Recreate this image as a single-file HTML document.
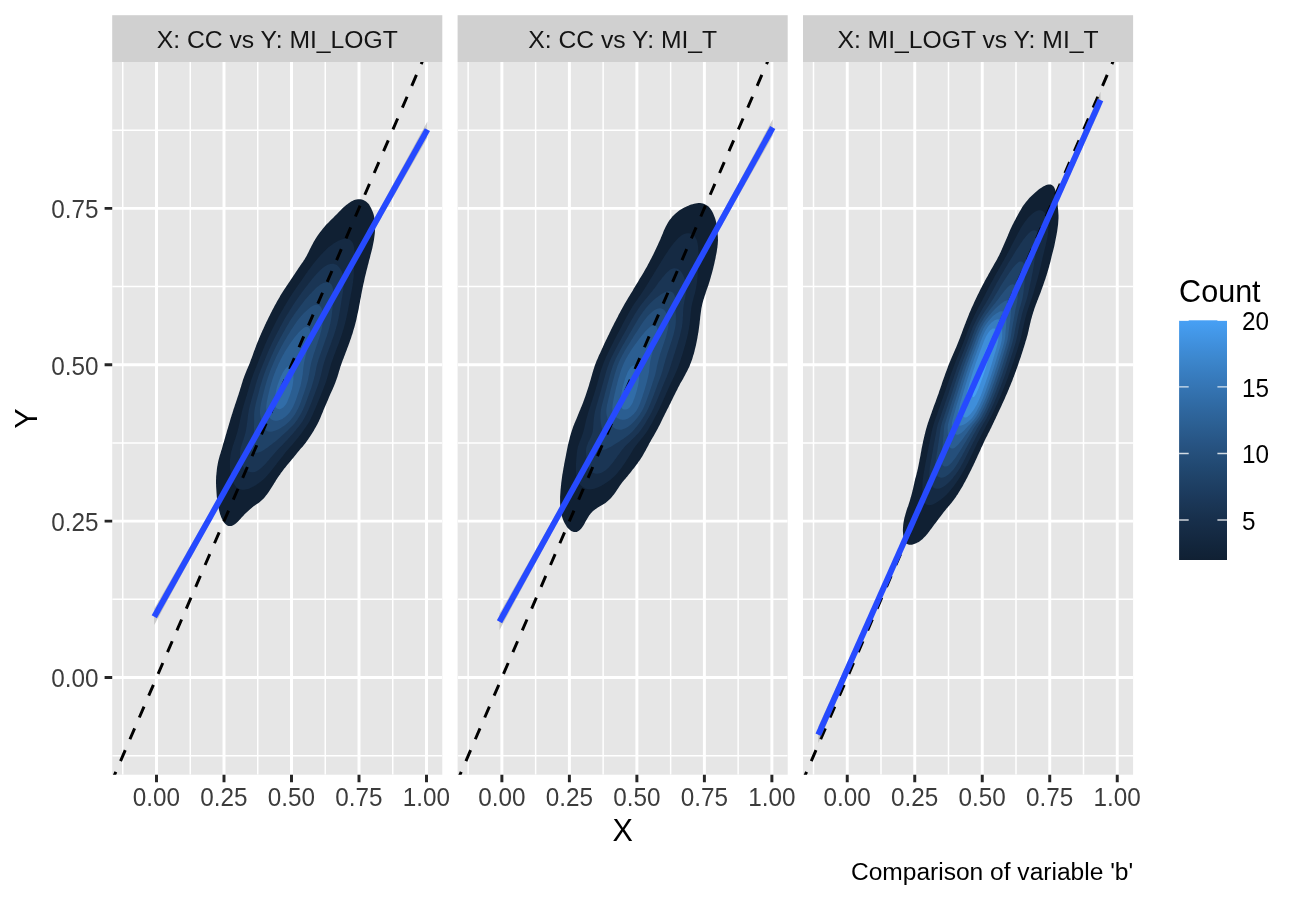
<!DOCTYPE html>
<html lang="en"><head><meta charset="utf-8"><title>Comparison of variable 'b'</title>
<style>
html,body{margin:0;padding:0;background:#fff;}
body{width:1300px;height:900px;overflow:hidden;}
svg{display:block;}
text{font-family:"Liberation Sans",sans-serif;}
.ax{font-size:24.3px;fill:#3c3c3c;}
.st{font-size:24.7px;fill:#141414;}
.ti{font-size:30.56px;fill:#000;}
.lg{font-size:24.3px;fill:#000;}.cp{font-size:24.55px;fill:#000;}
.gM{stroke:#fff;stroke-width:2.96;fill:none;}
.gm{stroke:#fff;stroke-width:1.48;fill:none;}
.tk{stroke:#262626;stroke-width:2.96;fill:none;}
</style></head><body>
<svg width="1300" height="900" viewBox="0 0 1300 900" role="img" aria-label="Comparison of variable b">
<rect width="1300" height="900" fill="#fff"/>
<defs>
<clipPath id="c0"><rect x="112.2" y="62.0" width="330.1" height="712.7"/></clipPath>
<clipPath id="c1"><rect x="457.6" y="62.0" width="330.1" height="712.7"/></clipPath>
<clipPath id="c2"><rect x="803.0" y="62.0" width="330.1" height="712.7"/></clipPath>
<linearGradient id="cb" x1="0" y1="1" x2="0" y2="0">
<stop offset="0.0000" stop-color="#102033"/>
<stop offset="0.0556" stop-color="#12253b"/>
<stop offset="0.1111" stop-color="#152a43"/>
<stop offset="0.1667" stop-color="#172f4b"/>
<stop offset="0.2222" stop-color="#1a3554"/>
<stop offset="0.2778" stop-color="#1c3b5e"/>
<stop offset="0.3333" stop-color="#1f4267"/>
<stop offset="0.3889" stop-color="#214871"/>
<stop offset="0.4444" stop-color="#254f7b"/>
<stop offset="0.5000" stop-color="#285686"/>
<stop offset="0.5556" stop-color="#2b5e91"/>
<stop offset="0.6111" stop-color="#2e659c"/>
<stop offset="0.6667" stop-color="#316da8"/>
<stop offset="0.7222" stop-color="#3575b4"/>
<stop offset="0.7778" stop-color="#387dc0"/>
<stop offset="0.8333" stop-color="#3c86cc"/>
<stop offset="0.8889" stop-color="#3f8eda"/>
<stop offset="0.9444" stop-color="#4397e7"/>
<stop offset="1.0000" stop-color="#47a0f5"/>
</linearGradient>
</defs>
<g>
<rect x="112.2" y="15.2" width="330.1" height="46.8" fill="#d0d0d0"/>
<text class="st" x="277.3" y="48.2" text-anchor="middle">X: CC vs Y: MI_LOGT</text>
<rect x="112.2" y="62.0" width="330.1" height="712.7" fill="#e6e6e6"/>
<g clip-path="url(#c0)">
<path class="gm" d="M122.75 62.0V774.7M112.2 755.69H442.4M190.25 62.0V774.7M112.2 599.31H442.4M257.75 62.0V774.7M112.2 442.94H442.4M325.25 62.0V774.7M112.2 286.56H442.4M392.75 62.0V774.7M112.2 130.19H442.4"/>
<path class="gM" d="M156.50 62.0V774.7M224.00 62.0V774.7M291.50 62.0V774.7M359.00 62.0V774.7M426.50 62.0V774.7M112.2 677.50H442.4M112.2 521.12H442.4M112.2 364.75H442.4M112.2 208.38H442.4"/>
<path d="M359.0 199.2L360.5 199.3L361.9 199.6L363.3 200.1L364.7 200.7L366.0 201.5L367.1 202.4L368.2 203.4L369.1 204.6L369.9 205.9L370.6 207.2L371.3 208.5L371.9 209.9L372.5 211.2L373.0 212.6L373.5 214.1L373.9 215.5L374.2 217.0L374.5 218.4L374.7 219.9L374.8 221.4L375.0 222.9L375.0 224.4L375.1 225.9L375.1 227.4L375.1 228.9L375.0 230.4L374.9 231.9L374.8 233.4L374.6 234.9L374.4 236.4L374.2 237.9L374.0 239.4L373.8 240.8L373.5 242.3L373.2 243.8L372.9 245.3L372.6 246.7L372.3 248.2L371.9 249.7L371.6 251.1L371.2 252.6L370.8 254.0L370.4 255.5L370.1 256.9L369.7 258.4L369.3 259.8L368.9 261.3L368.6 262.7L368.2 264.2L367.8 265.6L367.5 267.1L367.1 268.5L366.7 270.0L366.3 271.5L366.0 272.9L365.6 274.4L365.3 275.8L364.9 277.3L364.6 278.8L364.3 280.2L364.0 281.7L363.6 283.2L363.3 284.6L363.0 286.1L362.7 287.6L362.4 289.0L362.1 290.5L361.8 292.0L361.5 293.4L361.2 294.9L361.0 296.4L360.7 297.9L360.4 299.3L360.1 300.8L359.9 302.3L359.6 303.8L359.3 305.2L359.0 306.7L358.8 308.2L358.5 309.7L358.2 311.1L357.9 312.6L357.5 314.1L357.2 315.5L356.9 317.0L356.6 318.5L356.3 319.9L355.9 321.4L355.5 322.9L355.2 324.3L354.8 325.8L354.4 327.2L354.0 328.6L353.5 330.1L353.1 331.5L352.7 333.0L352.2 334.4L351.7 335.8L351.3 337.2L350.8 338.7L350.3 340.1L349.8 341.5L349.3 342.9L348.8 344.3L348.3 345.7L347.8 347.1L347.2 348.5L346.7 349.9L346.2 351.3L345.6 352.7L345.1 354.2L344.6 355.6L344.0 357.0L343.5 358.4L342.9 359.8L342.4 361.2L341.9 362.6L341.4 364.0L340.9 365.4L340.4 366.8L340.0 368.3L339.6 369.7L339.1 371.1L338.7 372.6L338.3 374.0L337.8 375.4L337.4 376.9L336.9 378.3L336.4 379.7L335.9 381.1L335.4 382.5L334.8 383.9L334.3 385.3L333.7 386.7L333.1 388.1L332.5 389.4L331.9 390.8L331.2 392.2L330.6 393.6L330.0 394.9L329.4 396.3L328.8 397.7L328.3 399.1L327.7 400.5L327.1 401.8L326.5 403.2L325.9 404.6L325.3 406.0L324.7 407.3L324.1 408.7L323.5 410.1L323.0 411.5L322.4 412.9L321.8 414.3L321.2 415.7L320.7 417.0L320.1 418.4L319.5 419.8L318.9 421.2L318.2 422.5L317.5 423.9L316.8 425.2L316.1 426.5L315.4 427.8L314.6 429.1L313.9 430.4L313.1 431.7L312.3 433.0L311.5 434.2L310.7 435.5L309.9 436.7L309.0 438.0L308.2 439.2L307.3 440.5L306.4 441.7L305.6 442.9L304.7 444.1L303.7 445.3L302.8 446.4L301.8 447.5L300.8 448.6L299.8 449.8L298.8 450.9L297.9 452.1L296.9 453.3L296.0 454.5L295.1 455.6L294.1 456.8L293.2 458.0L292.2 459.1L291.2 460.2L290.2 461.4L289.3 462.5L288.3 463.7L287.4 464.8L286.4 466.0L285.5 467.2L284.5 468.3L283.6 469.5L282.7 470.7L281.8 471.9L280.9 473.1L280.1 474.4L279.2 475.6L278.4 476.8L277.5 478.1L276.7 479.3L275.9 480.6L275.1 481.9L274.3 483.1L273.5 484.4L272.7 485.7L271.9 487.0L271.1 488.2L270.3 489.5L269.5 490.7L268.7 492.0L267.8 493.2L266.9 494.4L266.0 495.6L265.1 496.8L264.1 498.0L263.1 499.1L262.0 500.1L260.9 501.1L259.8 502.1L258.6 503.0L257.3 503.8L256.1 504.6L254.8 505.5L253.6 506.3L252.4 507.3L251.3 508.2L250.1 509.2L249.0 510.2L247.9 511.2L246.8 512.2L245.7 513.2L244.6 514.3L243.6 515.4L242.6 516.5L241.6 517.6L240.6 518.7L239.6 519.8L238.5 520.9L237.5 522.0L236.4 523.0L235.2 524.0L234.0 524.8L232.7 525.5L231.4 526.0L230.0 526.1L228.6 526.0L227.2 525.4L226.0 524.6L224.9 523.6L224.0 522.5L223.2 521.3L222.5 519.9L221.8 518.6L221.2 517.2L220.7 515.8L220.2 514.4L219.8 513.0L219.4 511.5L219.0 510.0L218.7 508.6L218.4 507.1L218.1 505.6L217.9 504.2L217.6 502.7L217.4 501.2L217.2 499.7L217.0 498.2L216.8 496.7L216.7 495.2L216.6 493.7L216.5 492.2L216.4 490.8L216.3 489.3L216.2 487.8L216.1 486.3L216.1 484.8L216.0 483.3L216.0 481.8L216.0 480.3L216.1 478.8L216.1 477.3L216.2 475.8L216.4 474.3L216.5 472.8L216.7 471.3L216.8 469.8L217.0 468.3L217.2 466.8L217.5 465.3L217.7 463.9L218.0 462.4L218.3 460.9L218.7 459.5L219.1 458.0L219.5 456.6L219.9 455.1L220.4 453.7L220.8 452.3L221.2 450.8L221.7 449.4L222.1 447.9L222.5 446.5L222.9 445.1L223.3 443.6L223.8 442.2L224.2 440.7L224.6 439.3L225.0 437.9L225.4 436.4L225.8 435.0L226.3 433.5L226.7 432.1L227.1 430.6L227.5 429.2L228.0 427.8L228.4 426.3L228.8 424.9L229.2 423.5L229.7 422.0L230.1 420.6L230.5 419.1L230.9 417.7L231.4 416.3L231.8 414.8L232.3 413.4L232.7 412.0L233.2 410.5L233.6 409.1L234.1 407.7L234.6 406.2L235.0 404.8L235.5 403.4L236.0 402.0L236.5 400.6L237.0 399.1L237.4 397.7L237.9 396.3L238.4 394.9L238.8 393.4L239.3 392.0L239.8 390.6L240.2 389.1L240.6 387.7L241.1 386.3L241.5 384.8L241.9 383.4L242.4 382.0L242.8 380.5L243.3 379.1L243.8 377.7L244.3 376.3L244.8 374.9L245.4 373.5L246.0 372.1L246.5 370.7L247.1 369.3L247.7 368.0L248.3 366.6L248.9 365.2L249.5 363.8L250.0 362.4L250.5 361.0L251.0 359.6L251.6 358.2L252.1 356.8L252.6 355.4L253.1 354.0L253.6 352.5L254.1 351.1L254.7 349.7L255.2 348.3L255.7 346.9L256.2 345.5L256.8 344.1L257.3 342.7L257.9 341.3L258.5 339.9L259.0 338.5L259.6 337.2L260.2 335.8L260.8 334.4L261.4 333.0L262.0 331.7L262.6 330.3L263.3 328.9L263.9 327.6L264.5 326.2L265.1 324.8L265.8 323.5L266.4 322.1L267.1 320.8L267.7 319.4L268.4 318.1L269.0 316.7L269.7 315.4L270.4 314.0L271.0 312.7L271.7 311.4L272.4 310.0L273.1 308.7L273.8 307.4L274.5 306.0L275.2 304.7L276.0 303.4L276.7 302.1L277.4 300.8L278.2 299.5L278.9 298.2L279.7 296.9L280.4 295.6L281.2 294.3L282.0 293.0L282.8 291.8L283.6 290.5L284.4 289.2L285.3 288.0L286.1 286.7L286.9 285.5L287.8 284.3L288.6 283.0L289.5 281.8L290.3 280.5L291.1 279.3L292.0 278.0L292.8 276.8L293.6 275.5L294.5 274.3L295.3 273.0L296.1 271.8L297.0 270.5L297.8 269.3L298.6 268.1L299.5 266.8L300.3 265.6L301.2 264.3L302.0 263.1L302.9 261.9L303.7 260.6L304.5 259.4L305.3 258.1L306.1 256.8L306.8 255.5L307.5 254.1L308.2 252.8L308.8 251.5L309.5 250.1L310.1 248.8L310.8 247.4L311.5 246.1L312.2 244.7L312.9 243.4L313.6 242.1L314.4 240.8L315.1 239.5L315.9 238.2L316.7 237.0L317.5 235.7L318.4 234.5L319.3 233.3L320.2 232.1L321.1 230.9L322.0 229.7L323.0 228.5L323.9 227.4L324.9 226.3L325.9 225.1L326.9 224.0L328.0 222.9L329.0 221.9L330.1 220.8L331.1 219.7L332.2 218.7L333.3 217.7L334.4 216.6L335.4 215.6L336.5 214.5L337.5 213.4L338.6 212.3L339.6 211.3L340.7 210.2L341.8 209.1L342.8 208.1L343.9 207.1L345.1 206.1L346.2 205.1L347.4 204.2L348.6 203.3L349.8 202.4L351.1 201.6L352.4 200.9L353.7 200.3L355.1 199.7L356.5 199.4L358.0 199.2Z" fill="#102033"/>
<path d="M346.0 238.7L347.5 238.9L348.9 239.3L350.2 239.9L351.3 240.9L352.2 242.0L353.0 243.3L353.5 244.7L353.9 246.2L354.2 247.6L354.3 249.1L354.4 250.6L354.5 252.1L354.5 253.6L354.4 255.1L354.4 256.6L354.3 258.1L354.2 259.6L354.2 261.1L354.1 262.6L354.1 264.1L354.0 265.6L354.0 267.1L354.0 268.6L354.0 270.1L353.9 271.6L353.8 273.1L353.8 274.6L353.7 276.1L353.6 277.6L353.4 279.1L353.2 280.6L353.1 282.1L352.8 283.6L352.6 285.1L352.4 286.6L352.1 288.0L351.9 289.5L351.6 291.0L351.3 292.5L351.0 293.9L350.7 295.4L350.5 296.9L350.2 298.4L349.9 299.8L349.6 301.3L349.4 302.8L349.1 304.3L348.8 305.8L348.5 307.2L348.3 308.7L348.0 310.2L347.7 311.7L347.4 313.1L347.1 314.6L346.8 316.1L346.5 317.5L346.1 319.0L345.8 320.5L345.4 321.9L345.1 323.4L344.7 324.8L344.3 326.3L343.9 327.7L343.5 329.2L343.0 330.6L342.6 332.0L342.1 333.5L341.7 334.9L341.2 336.3L340.7 337.7L340.2 339.2L339.7 340.6L339.2 342.0L338.7 343.4L338.2 344.8L337.6 346.2L337.1 347.6L336.6 349.0L336.0 350.4L335.5 351.8L335.0 353.2L334.4 354.6L333.9 356.1L333.4 357.5L332.9 358.9L332.4 360.3L331.9 361.7L331.4 363.1L330.9 364.5L330.5 366.0L330.1 367.4L329.7 368.9L329.3 370.3L328.9 371.8L328.5 373.2L328.1 374.7L327.7 376.1L327.3 377.6L326.9 379.0L326.4 380.4L326.0 381.9L325.5 383.3L325.0 384.7L324.4 386.1L323.9 387.5L323.3 388.9L322.8 390.3L322.2 391.7L321.6 393.1L321.1 394.5L320.5 395.9L320.0 397.2L319.4 398.6L318.8 400.0L318.3 401.4L317.7 402.8L317.2 404.2L316.6 405.6L316.0 407.0L315.4 408.4L314.8 409.8L314.2 411.1L313.6 412.5L313.0 413.9L312.4 415.3L311.8 416.6L311.1 418.0L310.5 419.3L309.8 420.7L309.1 422.0L308.3 423.3L307.5 424.5L306.7 425.8L305.9 427.1L305.0 428.3L304.1 429.5L303.3 430.7L302.4 431.9L301.5 433.2L300.6 434.4L299.7 435.6L298.8 436.8L297.9 437.9L296.9 439.1L296.0 440.3L295.0 441.5L294.1 442.6L293.1 443.8L292.1 444.9L291.1 446.0L290.1 447.1L289.1 448.2L288.1 449.4L287.1 450.5L286.2 451.6L285.2 452.8L284.3 454.0L283.4 455.2L282.5 456.4L281.6 457.6L280.6 458.8L279.7 459.9L278.8 461.1L277.8 462.3L276.9 463.5L276.0 464.7L275.1 465.8L274.2 467.0L273.2 468.2L272.3 469.4L271.4 470.6L270.4 471.8L269.5 472.9L268.5 474.1L267.5 475.2L266.5 476.3L265.5 477.4L264.4 478.4L263.3 479.4L262.1 480.4L261.0 481.4L259.8 482.3L258.6 483.2L257.4 484.0L256.1 484.9L254.8 485.7L253.5 486.4L252.2 487.1L250.9 487.8L249.5 488.4L248.1 488.9L246.7 489.3L245.2 489.6L243.7 489.8L242.2 489.8L240.8 489.5L239.3 489.1L238.0 488.4L236.8 487.5L235.7 486.5L234.8 485.3L233.9 484.1L233.2 482.8L232.6 481.4L232.1 480.0L231.6 478.6L231.3 477.1L230.9 475.7L230.7 474.2L230.5 472.7L230.3 471.2L230.2 469.7L230.0 468.2L230.0 466.7L229.9 465.2L229.9 463.7L229.9 462.2L229.9 460.7L230.0 459.2L230.2 457.7L230.4 456.2L230.6 454.8L230.9 453.3L231.2 451.8L231.6 450.4L232.0 448.9L232.4 447.5L232.8 446.0L233.3 444.6L233.8 443.2L234.2 441.8L234.7 440.3L235.2 438.9L235.7 437.5L236.1 436.1L236.6 434.6L237.0 433.2L237.4 431.7L237.8 430.3L238.1 428.8L238.5 427.4L238.8 425.9L239.2 424.4L239.5 423.0L239.8 421.5L240.1 420.0L240.4 418.6L240.7 417.1L241.1 415.6L241.4 414.2L241.7 412.7L242.0 411.2L242.4 409.8L242.8 408.3L243.2 406.9L243.6 405.4L244.0 404.0L244.5 402.6L244.9 401.1L245.3 399.7L245.8 398.2L246.2 396.8L246.7 395.4L247.1 393.9L247.5 392.5L248.0 391.1L248.4 389.6L248.8 388.2L249.2 386.7L249.6 385.3L250.1 383.9L250.5 382.4L250.9 381.0L251.4 379.5L251.9 378.1L252.4 376.7L252.9 375.3L253.4 373.9L253.9 372.5L254.5 371.1L255.0 369.7L255.6 368.3L256.2 366.9L256.7 365.5L257.3 364.1L257.9 362.7L258.4 361.3L258.9 359.9L259.5 358.5L260.0 357.1L260.6 355.7L261.1 354.3L261.7 352.9L262.3 351.5L262.8 350.2L263.4 348.8L264.0 347.4L264.5 346.0L265.1 344.6L265.7 343.2L266.3 341.9L266.9 340.5L267.6 339.1L268.2 337.8L268.8 336.4L269.5 335.0L270.1 333.7L270.8 332.3L271.4 331.0L272.1 329.6L272.7 328.3L273.4 326.9L274.1 325.6L274.7 324.2L275.4 322.9L276.1 321.6L276.8 320.2L277.5 318.9L278.2 317.6L278.9 316.3L279.6 314.9L280.4 313.6L281.1 312.3L281.8 311.0L282.6 309.7L283.3 308.4L284.1 307.1L284.8 305.8L285.6 304.5L286.3 303.2L287.1 301.9L287.9 300.6L288.7 299.4L289.5 298.1L290.3 296.8L291.1 295.6L291.9 294.3L292.7 293.0L293.6 291.8L294.4 290.5L295.3 289.3L296.1 288.1L297.0 286.8L297.8 285.6L298.7 284.4L299.6 283.1L300.4 281.9L301.3 280.7L302.1 279.4L303.0 278.2L303.8 277.0L304.7 275.7L305.5 274.5L306.4 273.3L307.3 272.1L308.1 270.8L309.0 269.6L309.9 268.4L310.8 267.2L311.7 266.0L312.6 264.8L313.6 263.6L314.5 262.4L315.4 261.3L316.4 260.1L317.3 259.0L318.3 257.8L319.3 256.7L320.3 255.6L321.3 254.5L322.3 253.4L323.4 252.3L324.4 251.2L325.5 250.2L326.6 249.1L327.7 248.1L328.8 247.1L330.0 246.2L331.2 245.3L332.4 244.4L333.6 243.5L334.9 242.7L336.2 241.9L337.5 241.2L338.8 240.5L340.2 239.9L341.6 239.4L343.0 239.0L344.5 238.8Z" fill="#152a43"/>
<path d="M332.0 263.7L333.5 263.8L334.9 264.2L336.3 264.8L337.5 265.6L338.6 266.7L339.5 267.8L340.4 269.0L341.1 270.3L341.8 271.7L342.3 273.1L342.7 274.5L343.1 276.0L343.4 277.4L343.6 278.9L343.7 280.4L343.8 281.9L343.8 283.4L343.7 284.9L343.6 286.4L343.4 287.9L343.3 289.4L343.1 290.9L342.9 292.4L342.6 293.9L342.4 295.4L342.2 296.8L341.9 298.3L341.7 299.8L341.4 301.3L341.2 302.8L341.0 304.3L340.7 305.7L340.5 307.2L340.2 308.7L340.0 310.2L339.7 311.7L339.5 313.1L339.2 314.6L338.9 316.1L338.7 317.6L338.4 319.0L338.0 320.5L337.7 322.0L337.4 323.4L337.0 324.9L336.6 326.3L336.2 327.8L335.8 329.2L335.4 330.7L334.9 332.1L334.5 333.5L334.0 335.0L333.5 336.4L333.0 337.8L332.5 339.2L332.0 340.6L331.5 342.1L331.0 343.5L330.5 344.9L330.0 346.3L329.4 347.7L328.9 349.1L328.4 350.5L327.9 351.9L327.3 353.3L326.8 354.7L326.3 356.1L325.8 357.6L325.3 359.0L324.8 360.4L324.4 361.8L323.9 363.3L323.5 364.7L323.1 366.1L322.7 367.6L322.4 369.1L322.0 370.5L321.7 372.0L321.3 373.4L321.0 374.9L320.6 376.4L320.2 377.8L319.8 379.3L319.4 380.7L319.0 382.1L318.5 383.6L318.0 385.0L317.5 386.4L317.0 387.8L316.5 389.2L316.0 390.6L315.4 392.0L314.9 393.4L314.4 394.8L313.8 396.2L313.3 397.6L312.8 399.1L312.2 400.5L311.7 401.9L311.1 403.3L310.6 404.7L310.0 406.0L309.4 407.4L308.9 408.8L308.3 410.2L307.6 411.6L307.0 412.9L306.4 414.3L305.7 415.6L305.0 416.9L304.3 418.3L303.5 419.6L302.8 420.9L302.0 422.1L301.1 423.4L300.2 424.6L299.3 425.8L298.4 427.0L297.4 428.1L296.5 429.3L295.5 430.4L294.5 431.6L293.6 432.7L292.6 433.9L291.6 435.0L290.6 436.1L289.6 437.2L288.6 438.3L287.6 439.4L286.6 440.5L285.5 441.6L284.5 442.7L283.5 443.8L282.4 444.9L281.4 446.0L280.3 447.0L279.2 448.1L278.2 449.2L277.2 450.3L276.2 451.4L275.2 452.5L274.2 453.7L273.2 454.8L272.3 456.0L271.3 457.1L270.3 458.2L269.3 459.4L268.4 460.5L267.4 461.6L266.4 462.8L265.4 463.9L264.3 465.0L263.3 466.0L262.2 467.1L261.1 468.1L259.9 469.0L258.7 469.9L257.4 470.7L256.1 471.4L254.7 471.9L253.2 472.2L251.8 472.3L250.3 472.1L248.9 471.8L247.5 471.2L246.2 470.4L245.1 469.4L244.2 468.3L243.3 467.1L242.5 465.8L241.9 464.4L241.3 463.0L240.9 461.6L240.5 460.1L240.2 458.7L240.0 457.2L239.9 455.7L239.9 454.2L239.9 452.7L240.1 451.2L240.3 449.7L240.6 448.2L241.0 446.8L241.4 445.4L241.9 443.9L242.4 442.5L242.9 441.1L243.4 439.7L243.8 438.2L244.3 436.8L244.7 435.4L245.1 433.9L245.5 432.5L245.8 431.0L246.1 429.5L246.3 428.0L246.6 426.6L246.8 425.1L247.0 423.6L247.2 422.1L247.4 420.6L247.6 419.1L247.7 417.6L247.9 416.1L248.1 414.6L248.3 413.2L248.6 411.7L248.8 410.2L249.1 408.7L249.5 407.3L249.8 405.8L250.2 404.4L250.6 402.9L251.0 401.5L251.4 400.0L251.8 398.6L252.2 397.1L252.6 395.7L253.0 394.2L253.5 392.8L253.9 391.3L254.3 389.9L254.7 388.5L255.1 387.0L255.5 385.6L255.9 384.1L256.3 382.7L256.8 381.2L257.2 379.8L257.7 378.4L258.1 377.0L258.6 375.5L259.1 374.1L259.7 372.7L260.2 371.3L260.7 369.9L261.3 368.5L261.9 367.1L262.4 365.7L263.0 364.3L263.5 362.9L264.1 361.5L264.7 360.2L265.2 358.8L265.8 357.4L266.4 356.0L267.0 354.6L267.5 353.2L268.1 351.8L268.7 350.5L269.3 349.1L270.0 347.7L270.6 346.3L271.2 345.0L271.8 343.6L272.5 342.3L273.1 340.9L273.8 339.6L274.5 338.2L275.1 336.9L275.8 335.5L276.5 334.2L277.2 332.9L277.9 331.5L278.6 330.2L279.3 328.9L279.9 327.5L280.6 326.2L281.4 324.9L282.1 323.6L282.8 322.2L283.5 320.9L284.3 319.6L285.0 318.3L285.8 317.0L286.5 315.7L287.3 314.4L288.1 313.2L288.9 311.9L289.7 310.6L290.5 309.3L291.3 308.1L292.1 306.8L292.9 305.5L293.7 304.3L294.5 303.0L295.3 301.8L296.2 300.5L297.0 299.3L297.9 298.0L298.7 296.8L299.6 295.6L300.5 294.4L301.4 293.1L302.2 291.9L303.1 290.7L304.0 289.5L305.0 288.3L305.9 287.1L306.8 285.9L307.7 284.8L308.6 283.6L309.5 282.4L310.5 281.2L311.4 280.0L312.3 278.8L313.3 277.7L314.2 276.5L315.2 275.4L316.2 274.3L317.2 273.2L318.3 272.1L319.3 271.0L320.4 270.0L321.5 269.0L322.7 268.0L323.9 267.1L325.1 266.2L326.4 265.4L327.7 264.7L329.1 264.2L330.5 263.9Z" fill="#1a3554"/>
<path d="M327.0 282.2L328.4 282.5L329.8 283.0L330.9 283.9L331.8 285.1L332.4 286.5L332.8 287.9L333.1 289.4L333.3 290.9L333.4 292.4L333.4 293.9L333.4 295.4L333.3 296.9L333.3 298.4L333.2 299.9L333.1 301.4L332.9 302.9L332.8 304.4L332.7 305.9L332.6 307.3L332.4 308.8L332.3 310.3L332.1 311.8L332.0 313.3L331.8 314.8L331.6 316.3L331.4 317.8L331.1 319.3L330.9 320.7L330.6 322.2L330.3 323.7L329.9 325.2L329.6 326.6L329.2 328.1L328.8 329.5L328.4 331.0L328.0 332.4L327.5 333.8L327.1 335.3L326.6 336.7L326.1 338.1L325.6 339.5L325.1 340.9L324.6 342.4L324.1 343.8L323.6 345.2L323.1 346.6L322.6 348.0L322.1 349.4L321.6 350.8L321.1 352.2L320.6 353.7L320.1 355.1L319.6 356.5L319.1 357.9L318.6 359.3L318.2 360.8L317.8 362.2L317.3 363.7L317.0 365.1L316.6 366.6L316.3 368.0L316.0 369.5L315.7 371.0L315.4 372.4L315.1 373.9L314.8 375.4L314.4 376.8L314.1 378.3L313.7 379.8L313.3 381.2L312.9 382.6L312.5 384.1L312.0 385.5L311.6 386.9L311.1 388.4L310.6 389.8L310.1 391.2L309.6 392.6L309.0 394.0L308.5 395.4L308.0 396.8L307.5 398.3L307.0 399.7L306.5 401.1L305.9 402.5L305.4 403.9L304.8 405.3L304.3 406.7L303.7 408.0L303.1 409.4L302.4 410.8L301.8 412.1L301.1 413.4L300.3 414.8L299.6 416.1L298.8 417.3L298.0 418.6L297.2 419.9L296.3 421.1L295.4 422.3L294.5 423.5L293.5 424.6L292.5 425.7L291.4 426.8L290.3 427.8L289.3 428.8L288.2 429.9L287.1 430.9L286.0 432.0L284.9 433.0L283.8 434.0L282.7 435.1L281.6 436.1L280.5 437.1L279.4 438.1L278.2 439.0L277.1 440.0L275.9 440.9L274.8 441.9L273.6 442.8L272.4 443.8L271.2 444.7L270.0 445.6L268.8 446.5L267.6 447.4L266.4 448.3L265.2 449.1L263.9 449.9L262.6 450.7L261.3 451.4L259.9 452.0L258.5 452.4L257.1 452.7L255.6 452.7L254.2 452.4L253.0 451.6L252.1 450.5L251.5 449.2L251.3 447.7L251.3 446.2L251.5 444.7L251.7 443.2L252.0 441.8L252.4 440.3L252.7 438.8L253.0 437.4L253.3 435.9L253.6 434.4L253.8 432.9L253.9 431.4L254.0 429.9L254.0 428.4L254.0 426.9L254.0 425.4L254.1 423.9L254.1 422.4L254.1 420.9L254.1 419.4L254.1 417.9L254.1 416.4L254.1 414.9L254.2 413.4L254.3 411.9L254.5 410.4L254.7 409.0L255.0 407.5L255.3 406.0L255.6 404.5L255.9 403.1L256.3 401.6L256.6 400.2L257.0 398.7L257.4 397.3L257.8 395.8L258.2 394.4L258.6 392.9L259.0 391.5L259.3 390.0L259.7 388.6L260.1 387.1L260.5 385.7L260.9 384.2L261.4 382.8L261.8 381.4L262.2 379.9L262.7 378.5L263.2 377.1L263.7 375.6L264.1 374.2L264.7 372.8L265.2 371.4L265.7 370.0L266.3 368.6L266.8 367.2L267.4 365.8L268.0 364.4L268.5 363.0L269.1 361.7L269.7 360.3L270.3 358.9L270.9 357.5L271.5 356.1L272.1 354.8L272.7 353.4L273.3 352.0L274.0 350.7L274.6 349.3L275.2 348.0L275.9 346.6L276.6 345.3L277.2 343.9L277.9 342.6L278.6 341.3L279.3 339.9L280.0 338.6L280.7 337.3L281.5 336.0L282.2 334.6L282.9 333.3L283.6 332.0L284.4 330.7L285.1 329.4L285.8 328.1L286.6 326.8L287.3 325.5L288.1 324.2L288.8 322.9L289.6 321.6L290.4 320.3L291.2 319.1L292.0 317.8L292.9 316.6L293.7 315.3L294.5 314.1L295.4 312.8L296.3 311.6L297.1 310.4L298.0 309.2L298.9 308.0L299.8 306.8L300.7 305.6L301.6 304.4L302.5 303.2L303.4 302.0L304.4 300.8L305.3 299.6L306.3 298.5L307.3 297.3L308.2 296.2L309.2 295.1L310.2 294.0L311.3 292.9L312.3 291.8L313.4 290.7L314.4 289.7L315.5 288.6L316.6 287.6L317.8 286.6L318.9 285.7L320.1 284.8L321.4 284.0L322.7 283.3L324.1 282.7L325.5 282.4Z" fill="#1f4267"/>
<path d="M317.0 304.8L318.4 305.0L319.7 305.7L320.7 306.8L321.4 308.0L322.0 309.4L322.4 310.9L322.7 312.3L322.9 313.8L323.0 315.3L323.0 316.8L323.0 318.3L323.0 319.8L322.9 321.3L322.7 322.8L322.5 324.3L322.3 325.8L322.0 327.3L321.7 328.7L321.4 330.2L321.0 331.7L320.6 333.1L320.2 334.6L319.8 336.0L319.3 337.4L318.9 338.9L318.4 340.3L317.9 341.7L317.5 343.2L317.0 344.6L316.5 346.0L316.0 347.4L315.5 348.9L315.1 350.3L314.6 351.7L314.1 353.1L313.6 354.6L313.2 356.0L312.8 357.4L312.3 358.9L311.9 360.3L311.5 361.8L311.1 363.2L310.8 364.7L310.5 366.2L310.2 367.6L309.9 369.1L309.7 370.6L309.5 372.1L309.2 373.6L308.9 375.1L308.6 376.5L308.3 378.0L308.0 379.5L307.7 380.9L307.3 382.4L306.9 383.8L306.5 385.3L306.1 386.7L305.6 388.2L305.2 389.6L304.7 391.0L304.2 392.4L303.7 393.9L303.2 395.3L302.7 396.7L302.2 398.1L301.7 399.5L301.2 401.0L300.7 402.4L300.2 403.8L299.6 405.2L299.0 406.5L298.4 407.9L297.7 409.3L297.0 410.6L296.3 411.9L295.6 413.2L294.8 414.5L293.9 415.7L293.0 416.9L292.1 418.1L291.2 419.3L290.2 420.4L289.2 421.5L288.1 422.6L287.0 423.6L285.8 424.6L284.6 425.5L283.4 426.3L282.1 427.1L280.8 427.9L279.5 428.7L278.2 429.4L276.8 430.0L275.5 430.6L274.0 431.1L272.6 431.5L271.1 431.7L269.7 431.8L268.2 431.5L266.8 431.0L265.6 430.1L264.6 429.0L263.8 427.8L263.1 426.5L262.5 425.1L262.0 423.7L261.6 422.2L261.3 420.8L261.0 419.3L260.7 417.8L260.4 416.3L260.2 414.9L260.0 413.4L260.0 411.9L260.0 410.4L260.2 408.9L260.3 407.4L260.6 405.9L260.8 404.4L261.1 402.9L261.4 401.5L261.7 400.0L262.1 398.5L262.5 397.1L262.8 395.6L263.2 394.2L263.5 392.7L263.9 391.2L264.3 389.8L264.7 388.3L265.0 386.9L265.4 385.4L265.9 384.0L266.3 382.5L266.7 381.1L267.2 379.7L267.6 378.2L268.1 376.8L268.6 375.4L269.1 374.0L269.6 372.6L270.1 371.1L270.7 369.7L271.2 368.3L271.8 367.0L272.4 365.6L273.0 364.2L273.5 362.8L274.1 361.4L274.8 360.0L275.4 358.7L276.0 357.3L276.6 355.9L277.3 354.6L278.0 353.2L278.6 351.9L279.3 350.6L280.0 349.2L280.7 347.9L281.4 346.6L282.1 345.2L282.9 343.9L283.6 342.6L284.3 341.3L285.1 340.0L285.9 338.7L286.6 337.4L287.4 336.1L288.2 334.8L289.0 333.6L289.8 332.3L290.5 331.0L291.3 329.7L292.1 328.5L293.0 327.2L293.8 325.9L294.6 324.7L295.5 323.4L296.3 322.2L297.2 321.0L298.1 319.8L299.1 318.6L300.0 317.5L301.0 316.3L302.0 315.2L303.0 314.1L304.0 313.0L305.1 311.9L306.2 310.9L307.3 309.9L308.4 308.9L309.6 308.0L310.8 307.1L312.1 306.3L313.4 305.6L314.8 305.1L316.3 304.8Z" fill="#254f7b"/>
<path d="M307.0 326.8L308.3 327.2L309.3 328.1L310.0 329.4L310.3 330.9L310.4 332.3L310.4 333.8L310.3 335.3L310.1 336.8L309.9 338.3L309.6 339.8L309.3 341.3L308.9 342.7L308.6 344.2L308.2 345.7L307.9 347.1L307.5 348.6L307.1 350.0L306.7 351.5L306.3 352.9L306.0 354.4L305.6 355.8L305.3 357.3L304.9 358.8L304.6 360.2L304.3 361.7L304.0 363.2L303.8 364.7L303.5 366.2L303.4 367.6L303.2 369.1L303.1 370.6L302.9 372.1L302.8 373.6L302.6 375.1L302.3 376.6L302.1 378.1L301.8 379.6L301.5 381.0L301.2 382.5L300.9 384.0L300.6 385.4L300.2 386.9L299.7 388.3L299.3 389.8L298.9 391.2L298.4 392.6L297.9 394.1L297.4 395.5L296.9 396.9L296.5 398.3L296.0 399.7L295.4 401.2L294.9 402.6L294.3 404.0L293.7 405.3L293.1 406.7L292.4 408.0L291.7 409.3L290.9 410.6L290.0 411.9L289.1 413.0L288.1 414.2L287.1 415.3L286.0 416.3L284.8 417.2L283.6 418.1L282.3 418.9L281.0 419.6L279.6 420.1L278.2 420.5L276.7 420.8L275.3 420.8L273.8 420.5L272.4 420.0L271.1 419.2L270.0 418.3L269.0 417.2L268.1 415.9L267.4 414.6L266.9 413.2L266.5 411.8L266.3 410.3L266.2 408.8L266.2 407.3L266.3 405.8L266.5 404.3L266.7 402.8L266.9 401.3L267.2 399.9L267.5 398.4L267.8 396.9L268.1 395.4L268.5 394.0L268.8 392.5L269.2 391.0L269.5 389.6L269.9 388.1L270.3 386.7L270.7 385.2L271.1 383.8L271.5 382.3L272.0 380.9L272.4 379.5L272.9 378.1L273.4 376.6L273.9 375.2L274.4 373.8L275.0 372.4L275.5 371.0L276.1 369.6L276.7 368.2L277.3 366.9L277.9 365.5L278.5 364.1L279.1 362.7L279.8 361.4L280.4 360.0L281.1 358.7L281.8 357.4L282.5 356.0L283.2 354.7L284.0 353.4L284.7 352.1L285.5 350.8L286.3 349.5L287.1 348.3L287.9 347.0L288.7 345.7L289.5 344.5L290.4 343.2L291.2 342.0L292.1 340.8L293.0 339.5L293.9 338.3L294.8 337.1L295.7 336.0L296.7 334.8L297.6 333.7L298.6 332.5L299.6 331.4L300.7 330.4L301.8 329.4L303.0 328.4L304.2 327.6L305.6 327.0Z" fill="#2b5e91"/>
<path d="M289.0 366.4L290.3 366.8L291.3 367.7L292.1 369.0L292.6 370.4L293.0 371.8L293.3 373.3L293.4 374.8L293.5 376.3L293.4 377.8L293.4 379.3L293.3 380.8L293.1 382.3L292.9 383.8L292.7 385.3L292.4 386.8L292.1 388.2L291.7 389.7L291.2 391.1L290.8 392.5L290.3 394.0L289.8 395.4L289.3 396.8L288.7 398.2L288.2 399.6L287.6 401.0L287.0 402.4L286.3 403.7L285.4 404.9L284.5 406.1L283.5 407.2L282.3 408.1L281.0 408.8L279.6 409.2L278.2 409.1L276.9 408.5L275.9 407.5L275.2 406.2L274.7 404.8L274.5 403.3L274.5 401.8L274.7 400.3L274.8 398.8L275.0 397.3L275.2 395.8L275.4 394.3L275.7 392.8L276.0 391.4L276.3 389.9L276.6 388.4L277.0 387.0L277.4 385.5L277.9 384.1L278.4 382.7L278.9 381.3L279.4 379.9L280.0 378.5L280.6 377.1L281.2 375.7L281.9 374.4L282.5 373.0L283.3 371.7L284.1 370.4L285.0 369.2L286.0 368.1L287.1 367.1L288.3 366.5Z" fill="#316da8"/>
<line x1="112.35" y1="780.02" x2="442.20" y2="15.28" stroke="#000" stroke-width="2.96" stroke-dasharray="11.86 11.86" stroke-dashoffset="3.05"/>
<path d="M154.3 608.6L165.6 588.9L177.0 569.2L188.4 549.5L199.8 529.8L211.2 510.1L222.5 490.3L233.9 470.6L245.3 450.8L256.7 430.9L268.1 411.0L279.4 390.9L290.8 370.7L302.2 350.3L313.6 329.8L325.0 309.1L336.3 288.4L347.7 267.6L359.1 246.8L370.5 225.9L381.9 205.0L393.2 184.1L404.6 163.2L416.0 142.3L427.4 121.4L427.4 137.8L416.0 157.5L404.6 177.2L393.2 196.9L381.9 216.6L370.5 236.3L359.1 256.0L347.7 275.8L336.3 295.6L325.0 315.5L313.6 335.4L302.2 355.5L290.8 375.7L279.4 396.1L268.1 416.6L256.7 437.3L245.3 458.0L233.9 478.8L222.5 499.6L211.2 520.5L199.8 541.3L188.4 562.2L177.0 583.1L165.6 604.0L154.3 625.0Z" fill="#878787" fill-opacity="0.4"/>
<line x1="154.26" y1="616.76" x2="427.39" y2="129.62" stroke="#264aff" stroke-width="5.93"/>
</g>
<path class="tk" d="M156.50 774.7v7.6M224.00 774.7v7.6M291.50 774.7v7.6M359.00 774.7v7.6M426.50 774.7v7.6"/>
<text class="ax" transform="translate(156.50 806.35) scale(1 1.035)" text-anchor="middle">0.00</text>
<text class="ax" transform="translate(224.00 806.35) scale(1 1.035)" text-anchor="middle">0.25</text>
<text class="ax" transform="translate(291.50 806.35) scale(1 1.035)" text-anchor="middle">0.50</text>
<text class="ax" transform="translate(359.00 806.35) scale(1 1.035)" text-anchor="middle">0.75</text>
<text class="ax" transform="translate(426.50 806.35) scale(1 1.035)" text-anchor="middle">1.00</text>
</g>
<g>
<rect x="457.6" y="15.2" width="330.1" height="46.8" fill="#d0d0d0"/>
<text class="st" x="622.7" y="48.2" text-anchor="middle">X: CC vs Y: MI_T</text>
<rect x="457.6" y="62.0" width="330.1" height="712.7" fill="#e6e6e6"/>
<g clip-path="url(#c1)">
<path class="gm" d="M468.13 62.0V774.7M457.6 755.69H787.7M535.63 62.0V774.7M457.6 599.31H787.7M603.13 62.0V774.7M457.6 442.94H787.7M670.63 62.0V774.7M457.6 286.56H787.7M738.13 62.0V774.7M457.6 130.19H787.7"/>
<path class="gM" d="M501.88 62.0V774.7M569.38 62.0V774.7M636.88 62.0V774.7M704.38 62.0V774.7M771.88 62.0V774.7M457.6 677.50H787.7M457.6 521.12H787.7M457.6 364.75H787.7M457.6 208.38H787.7"/>
<path d="M700.0 203.1L701.5 203.3L702.9 203.6L704.3 204.1L705.7 204.7L707.0 205.5L708.2 206.3L709.2 207.3L710.2 208.5L711.1 209.7L711.9 211.0L712.6 212.3L713.2 213.6L713.8 215.0L714.4 216.4L714.9 217.8L715.4 219.2L715.8 220.7L716.1 222.1L716.5 223.6L716.7 225.1L716.9 226.5L717.1 228.0L717.2 229.5L717.3 231.0L717.5 232.5L717.6 234.0L717.8 235.5L717.9 237.0L717.9 238.5L718.0 240.0L717.9 241.5L717.8 243.0L717.7 244.5L717.5 246.0L717.4 247.5L717.1 249.0L716.9 250.4L716.7 251.9L716.4 253.4L716.1 254.9L715.8 256.3L715.6 257.8L715.3 259.3L714.9 260.8L714.6 262.2L714.3 263.7L714.0 265.1L713.6 266.6L713.3 268.1L712.9 269.5L712.5 271.0L712.1 272.4L711.7 273.9L711.3 275.3L710.9 276.8L710.5 278.2L710.1 279.6L709.7 281.1L709.2 282.5L708.7 283.9L708.3 285.4L707.8 286.8L707.3 288.2L706.8 289.6L706.3 291.0L705.8 292.5L705.4 293.9L704.9 295.3L704.4 296.7L704.0 298.2L703.5 299.6L703.1 301.0L702.7 302.5L702.3 303.9L702.0 305.4L701.7 306.9L701.4 308.3L701.2 309.8L701.0 311.3L700.8 312.8L700.6 314.3L700.4 315.8L700.2 317.3L700.1 318.8L699.9 320.2L699.7 321.7L699.6 323.2L699.4 324.7L699.2 326.2L699.0 327.7L698.8 329.2L698.6 330.7L698.4 332.2L698.1 333.6L697.9 335.1L697.6 336.6L697.4 338.1L697.1 339.5L696.8 341.0L696.5 342.5L696.2 344.0L695.9 345.4L695.5 346.9L695.2 348.3L694.8 349.8L694.5 351.3L694.1 352.7L693.7 354.2L693.2 355.6L692.8 357.0L692.4 358.5L691.9 359.9L691.4 361.3L690.9 362.7L690.3 364.1L689.8 365.5L689.2 366.9L688.5 368.2L687.9 369.6L687.2 370.9L686.5 372.2L685.8 373.6L685.1 374.9L684.4 376.2L683.7 377.6L683.0 378.9L682.2 380.2L681.5 381.5L680.7 382.8L680.0 384.1L679.3 385.4L678.6 386.7L677.9 388.1L677.3 389.4L676.6 390.8L675.9 392.1L675.2 393.5L674.6 394.8L673.9 396.1L673.2 397.5L672.6 398.8L671.9 400.2L671.2 401.5L670.6 402.9L669.9 404.2L669.2 405.5L668.6 406.9L667.9 408.2L667.2 409.6L666.5 410.9L665.9 412.3L665.2 413.6L664.5 414.9L663.9 416.3L663.2 417.6L662.5 419.0L661.9 420.3L661.2 421.7L660.6 423.0L659.9 424.4L659.2 425.7L658.5 427.0L657.8 428.4L657.1 429.7L656.4 431.0L655.7 432.3L655.0 433.6L654.2 435.0L653.5 436.3L652.7 437.5L652.0 438.8L651.2 440.1L650.5 441.4L649.7 442.7L649.0 444.1L648.3 445.4L647.6 446.7L646.9 448.0L646.2 449.3L645.5 450.7L644.7 452.0L644.0 453.3L643.3 454.6L642.5 455.9L641.7 457.2L640.9 458.4L640.1 459.7L639.2 460.9L638.3 462.1L637.5 463.4L636.6 464.6L635.7 465.8L634.8 467.0L633.9 468.2L632.9 469.3L632.0 470.5L631.1 471.7L630.1 472.9L629.2 474.0L628.2 475.2L627.3 476.4L626.3 477.5L625.4 478.7L624.4 479.8L623.4 481.0L622.5 482.1L621.6 483.3L620.7 484.5L619.8 485.7L619.0 487.0L618.2 488.2L617.3 489.5L616.5 490.7L615.7 492.0L614.8 493.2L613.9 494.4L613.0 495.6L612.0 496.7L611.0 497.9L610.0 498.9L608.9 500.0L607.8 501.0L606.6 502.0L605.5 502.9L604.2 503.7L603.0 504.6L601.7 505.3L600.4 506.1L599.1 506.8L597.8 507.6L596.5 508.4L595.3 509.3L594.1 510.2L593.0 511.1L591.9 512.2L590.9 513.3L590.0 514.4L589.1 515.6L588.3 516.9L587.5 518.2L586.8 519.5L586.0 520.8L585.3 522.1L584.6 523.5L583.9 524.8L583.1 526.0L582.2 527.3L581.3 528.4L580.3 529.5L579.2 530.5L578.0 531.3L576.7 531.9L575.3 532.1L573.9 532.0L572.5 531.6L571.2 530.9L570.0 530.1L568.8 529.1L567.8 528.0L566.9 526.9L566.1 525.6L565.3 524.3L564.6 523.0L563.9 521.7L563.3 520.3L562.8 518.9L562.3 517.5L561.8 516.1L561.5 514.6L561.2 513.2L560.9 511.7L560.7 510.2L560.5 508.7L560.4 507.2L560.3 505.7L560.2 504.2L560.1 502.7L560.1 501.2L560.1 499.7L560.1 498.2L560.1 496.7L560.2 495.2L560.3 493.7L560.4 492.2L560.5 490.7L560.6 489.2L560.8 487.7L560.9 486.2L561.1 484.7L561.2 483.3L561.4 481.8L561.6 480.3L561.8 478.8L562.0 477.3L562.2 475.8L562.4 474.3L562.7 472.9L562.9 471.4L563.2 469.9L563.4 468.4L563.7 466.9L564.0 465.5L564.2 464.0L564.5 462.5L564.8 461.0L565.1 459.6L565.4 458.1L565.7 456.6L566.0 455.1L566.2 453.7L566.5 452.2L566.8 450.7L567.1 449.2L567.4 447.8L567.7 446.3L568.0 444.8L568.4 443.4L568.7 441.9L569.1 440.5L569.5 439.0L569.8 437.6L570.2 436.1L570.6 434.7L571.0 433.2L571.5 431.8L571.9 430.4L572.4 428.9L572.9 427.5L573.4 426.1L574.0 424.7L574.5 423.3L575.1 421.9L575.7 420.6L576.3 419.2L576.9 417.8L577.4 416.4L578.0 415.0L578.6 413.6L579.1 412.2L579.7 410.8L580.3 409.5L580.8 408.1L581.4 406.7L582.0 405.3L582.5 403.9L583.1 402.5L583.6 401.1L584.1 399.7L584.6 398.3L585.1 396.9L585.6 395.4L586.1 394.0L586.6 392.6L587.0 391.2L587.5 389.7L588.0 388.3L588.4 386.9L588.9 385.4L589.3 384.0L589.7 382.6L590.2 381.1L590.6 379.7L591.0 378.2L591.4 376.8L591.8 375.4L592.2 373.9L592.6 372.5L593.1 371.0L593.5 369.6L594.0 368.2L594.4 366.7L594.9 365.3L595.4 363.9L596.0 362.5L596.5 361.1L597.1 359.7L597.7 358.4L598.3 357.0L598.9 355.6L599.5 354.3L600.2 352.9L600.8 351.5L601.4 350.2L602.0 348.8L602.7 347.4L603.3 346.1L603.9 344.7L604.5 343.3L605.2 342.0L605.8 340.6L606.5 339.3L607.1 337.9L607.8 336.6L608.4 335.2L609.1 333.9L609.7 332.5L610.4 331.2L611.0 329.8L611.7 328.5L612.4 327.1L613.1 325.8L613.7 324.4L614.4 323.1L615.1 321.8L615.8 320.4L616.5 319.1L617.2 317.8L617.9 316.4L618.5 315.1L619.2 313.8L620.0 312.5L620.7 311.1L621.4 309.8L622.1 308.5L622.8 307.2L623.5 305.9L624.3 304.6L625.0 303.3L625.8 302.0L626.5 300.7L627.3 299.4L628.1 298.1L628.9 296.8L629.7 295.5L630.4 294.3L631.2 293.0L632.0 291.7L632.8 290.4L633.5 289.1L634.3 287.8L635.1 286.5L635.8 285.3L636.6 284.0L637.4 282.7L638.2 281.4L639.0 280.1L639.7 278.8L640.5 277.6L641.3 276.3L642.1 275.0L642.8 273.7L643.6 272.4L644.4 271.1L645.1 269.8L645.8 268.5L646.6 267.2L647.3 265.9L648.0 264.6L648.7 263.2L649.4 261.9L650.1 260.6L650.8 259.3L651.5 257.9L652.2 256.6L652.9 255.2L653.5 253.9L654.2 252.6L654.8 251.2L655.5 249.8L656.1 248.5L656.8 247.1L657.4 245.8L658.0 244.4L658.6 243.0L659.2 241.7L659.9 240.3L660.5 238.9L661.0 237.5L661.6 236.2L662.2 234.8L662.8 233.4L663.3 232.0L663.9 230.6L664.5 229.2L665.1 227.9L665.8 226.5L666.5 225.2L667.2 223.9L668.0 222.6L668.8 221.3L669.6 220.1L670.5 218.9L671.5 217.7L672.4 216.6L673.5 215.5L674.5 214.4L675.6 213.4L676.8 212.4L678.0 211.5L679.2 210.6L680.4 209.8L681.7 209.0L683.0 208.2L684.3 207.5L685.6 206.9L687.0 206.2L688.4 205.7L689.8 205.1L691.2 204.6L692.6 204.2L694.1 203.8L695.5 203.5L697.0 203.3L698.5 203.1Z" fill="#102033"/>
<path d="M688.0 233.2L689.5 233.3L690.9 233.7L692.3 234.3L693.5 235.2L694.5 236.2L695.4 237.4L696.1 238.7L696.7 240.1L697.2 241.5L697.5 243.0L697.8 244.4L698.0 245.9L698.2 247.4L698.3 248.9L698.4 250.4L698.5 251.9L698.5 253.4L698.5 254.9L698.5 256.4L698.4 257.9L698.4 259.4L698.4 260.9L698.3 262.4L698.2 263.9L698.2 265.4L698.1 266.9L698.0 268.4L698.0 269.9L697.9 271.4L697.8 272.9L697.7 274.4L697.6 275.9L697.5 277.4L697.3 278.9L697.2 280.4L697.0 281.9L696.8 283.4L696.6 284.8L696.3 286.3L696.1 287.8L695.8 289.3L695.5 290.7L695.1 292.2L694.8 293.7L694.4 295.1L694.0 296.6L693.6 298.0L693.2 299.5L692.8 300.9L692.4 302.4L692.1 303.8L691.8 305.3L691.5 306.8L691.3 308.2L691.1 309.7L690.9 311.2L690.8 312.7L690.6 314.2L690.5 315.7L690.4 317.2L690.2 318.7L690.1 320.2L689.9 321.7L689.8 323.2L689.6 324.7L689.3 326.1L689.1 327.6L688.9 329.1L688.6 330.6L688.3 332.0L688.0 333.5L687.7 335.0L687.3 336.4L687.0 337.9L686.6 339.4L686.2 340.8L685.9 342.3L685.5 343.7L685.1 345.2L684.7 346.6L684.3 348.1L683.9 349.5L683.4 350.9L683.0 352.4L682.6 353.8L682.1 355.2L681.7 356.7L681.2 358.1L680.8 359.5L680.3 361.0L679.8 362.4L679.3 363.8L678.8 365.2L678.3 366.6L677.8 368.0L677.2 369.4L676.6 370.8L676.0 372.2L675.4 373.6L674.8 374.9L674.2 376.3L673.6 377.6L672.9 379.0L672.3 380.4L671.6 381.7L671.0 383.1L670.3 384.4L669.7 385.8L669.1 387.1L668.4 388.5L667.8 389.9L667.2 391.2L666.6 392.6L666.0 394.0L665.4 395.4L664.8 396.7L664.2 398.1L663.6 399.5L662.9 400.8L662.3 402.2L661.7 403.6L661.1 404.9L660.4 406.3L659.8 407.7L659.2 409.0L658.5 410.4L657.9 411.7L657.2 413.1L656.5 414.4L655.8 415.7L655.1 417.1L654.4 418.4L653.7 419.7L653.0 421.0L652.3 422.4L651.6 423.7L650.8 425.0L650.1 426.3L649.3 427.6L648.6 428.9L647.8 430.2L647.0 431.4L646.1 432.7L645.3 433.9L644.4 435.1L643.5 436.3L642.5 437.4L641.6 438.6L640.6 439.8L639.7 440.9L638.7 442.1L637.8 443.3L636.9 444.4L636.0 445.6L635.1 446.8L634.2 448.1L633.4 449.3L632.6 450.6L631.8 451.9L631.1 453.2L630.3 454.5L629.5 455.8L628.7 457.0L627.9 458.3L627.1 459.6L626.3 460.8L625.5 462.1L624.6 463.3L623.8 464.6L622.9 465.8L622.1 467.0L621.2 468.2L620.3 469.4L619.3 470.6L618.4 471.8L617.5 472.9L616.5 474.1L615.5 475.2L614.4 476.3L613.3 477.3L612.2 478.3L611.1 479.2L609.9 480.2L608.7 481.1L607.5 482.0L606.2 482.8L605.0 483.6L603.7 484.4L602.4 485.1L601.1 485.9L599.7 486.5L598.4 487.2L597.0 487.8L595.6 488.3L594.1 488.7L592.7 489.0L591.2 489.3L589.7 489.3L588.3 489.2L586.8 488.9L585.4 488.4L584.0 487.7L582.8 486.9L581.6 486.0L580.5 485.0L579.5 483.9L578.7 482.7L577.9 481.4L577.3 480.0L576.9 478.6L576.5 477.1L576.2 475.6L576.1 474.1L576.0 472.6L575.9 471.1L575.9 469.6L575.9 468.1L575.9 466.6L575.9 465.1L576.0 463.6L576.1 462.2L576.2 460.7L576.3 459.2L576.4 457.7L576.5 456.2L576.7 454.7L576.8 453.2L577.0 451.7L577.2 450.2L577.5 448.7L577.8 447.3L578.2 445.8L578.7 444.4L579.2 443.0L579.7 441.6L580.3 440.2L580.9 438.8L581.4 437.4L581.9 436.0L582.4 434.6L582.9 433.2L583.3 431.7L583.7 430.3L584.1 428.8L584.4 427.4L584.7 425.9L585.1 424.4L585.4 423.0L585.8 421.5L586.1 420.1L586.5 418.6L586.9 417.2L587.3 415.7L587.7 414.3L588.1 412.8L588.5 411.4L589.0 409.9L589.4 408.5L589.9 407.1L590.4 405.7L590.8 404.2L591.3 402.8L591.8 401.4L592.3 400.0L592.7 398.5L593.2 397.1L593.6 395.7L594.1 394.3L594.5 392.8L595.0 391.4L595.4 389.9L595.8 388.5L596.2 387.1L596.7 385.6L597.1 384.2L597.5 382.7L597.9 381.3L598.3 379.9L598.7 378.4L599.1 377.0L599.5 375.5L599.9 374.1L600.3 372.6L600.8 371.2L601.2 369.7L601.6 368.3L602.1 366.9L602.6 365.5L603.1 364.1L603.6 362.7L604.2 361.3L604.8 359.9L605.4 358.5L606.0 357.1L606.6 355.8L607.3 354.4L607.9 353.1L608.6 351.7L609.2 350.4L609.9 349.0L610.6 347.7L611.2 346.3L611.9 345.0L612.6 343.7L613.3 342.3L613.9 341.0L614.6 339.6L615.3 338.3L616.0 337.0L616.7 335.7L617.4 334.3L618.1 333.0L618.8 331.7L619.5 330.3L620.2 329.0L620.9 327.7L621.6 326.3L622.2 325.0L622.9 323.7L623.6 322.3L624.3 321.0L625.0 319.7L625.7 318.4L626.5 317.1L627.2 315.7L627.9 314.4L628.6 313.1L629.4 311.8L630.1 310.5L630.9 309.2L631.7 307.9L632.4 306.6L633.2 305.4L634.0 304.1L634.9 302.9L635.7 301.6L636.6 300.4L637.5 299.2L638.3 298.0L639.2 296.7L640.1 295.5L640.9 294.3L641.8 293.0L642.6 291.8L643.4 290.5L644.2 289.3L645.0 288.0L645.8 286.7L646.6 285.4L647.4 284.2L648.2 282.9L649.0 281.6L649.8 280.3L650.5 279.1L651.3 277.8L652.1 276.5L652.9 275.2L653.7 273.9L654.4 272.6L655.2 271.4L656.0 270.1L656.8 268.8L657.6 267.5L658.3 266.2L659.1 264.9L659.9 263.7L660.7 262.4L661.5 261.1L662.3 259.8L663.1 258.6L663.9 257.3L664.7 256.0L665.5 254.8L666.3 253.5L667.2 252.3L668.0 251.0L668.8 249.8L669.7 248.6L670.6 247.3L671.4 246.1L672.3 244.9L673.3 243.7L674.2 242.6L675.2 241.4L676.2 240.3L677.2 239.2L678.3 238.1L679.4 237.1L680.5 236.2L681.7 235.3L683.0 234.5L684.4 233.9L685.8 233.5L687.3 233.2Z" fill="#152a43"/>
<path d="M674.5 268.2L676.0 268.4L677.4 268.8L678.7 269.5L679.9 270.4L680.9 271.5L681.8 272.7L682.5 273.9L683.2 275.3L683.8 276.7L684.3 278.1L684.8 279.5L685.1 281.0L685.4 282.4L685.7 283.9L685.9 285.4L686.0 286.9L686.0 288.4L686.0 289.9L686.0 291.4L685.9 292.9L685.7 294.4L685.5 295.9L685.2 297.4L684.9 298.8L684.6 300.3L684.3 301.8L684.1 303.3L683.8 304.7L683.6 306.2L683.4 307.7L683.3 309.2L683.2 310.7L683.1 312.2L683.0 313.7L683.0 315.2L682.9 316.7L682.8 318.2L682.8 319.7L682.6 321.2L682.5 322.7L682.3 324.2L682.1 325.7L681.9 327.2L681.6 328.6L681.3 330.1L680.9 331.6L680.6 333.0L680.2 334.5L679.9 335.9L679.5 337.4L679.1 338.8L678.6 340.3L678.2 341.7L677.8 343.2L677.4 344.6L676.9 346.0L676.5 347.5L676.0 348.9L675.6 350.3L675.1 351.8L674.7 353.2L674.2 354.6L673.7 356.1L673.3 357.5L672.8 358.9L672.4 360.4L671.9 361.8L671.5 363.2L671.0 364.7L670.6 366.1L670.1 367.5L669.6 369.0L669.2 370.4L668.7 371.8L668.1 373.2L667.6 374.6L667.0 376.0L666.5 377.4L665.9 378.8L665.3 380.2L664.7 381.5L664.1 382.9L663.5 384.3L663.0 385.7L662.4 387.1L661.8 388.5L661.3 389.9L660.7 391.3L660.1 392.6L659.6 394.0L659.0 395.4L658.4 396.8L657.9 398.2L657.3 399.6L656.7 401.0L656.1 402.4L655.5 403.8L654.9 405.1L654.3 406.5L653.7 407.9L653.1 409.2L652.4 410.6L651.8 411.9L651.1 413.3L650.4 414.6L649.6 415.9L648.9 417.2L648.1 418.5L647.4 419.8L646.6 421.1L645.8 422.4L645.1 423.7L644.2 424.9L643.4 426.2L642.6 427.4L641.7 428.7L640.9 429.9L640.0 431.1L639.1 432.3L638.1 433.4L637.1 434.6L636.0 435.6L635.0 436.7L633.9 437.8L632.8 438.8L631.7 439.8L630.6 440.9L629.6 441.9L628.5 442.9L627.4 444.0L626.3 445.0L625.3 446.1L624.3 447.2L623.3 448.4L622.3 449.5L621.4 450.7L620.5 451.9L619.7 453.2L618.8 454.4L617.9 455.6L617.1 456.8L616.2 458.1L615.3 459.3L614.4 460.5L613.5 461.7L612.6 462.9L611.6 464.0L610.7 465.2L609.7 466.3L608.7 467.4L607.6 468.5L606.5 469.5L605.3 470.4L604.1 471.3L602.9 472.1L601.5 472.8L600.1 473.3L598.7 473.6L597.2 473.8L595.7 473.7L594.3 473.3L592.9 472.8L591.7 471.9L590.7 470.9L589.8 469.7L589.1 468.3L588.5 467.0L587.9 465.6L587.5 464.1L587.2 462.7L586.9 461.2L586.6 459.7L586.4 458.2L586.3 456.7L586.2 455.2L586.1 453.7L586.0 452.2L586.0 450.7L586.1 449.2L586.4 447.8L586.8 446.3L587.3 444.9L587.8 443.5L588.4 442.1L589.1 440.8L589.7 439.4L590.4 438.1L591.0 436.7L591.5 435.3L592.0 433.9L592.5 432.4L592.8 431.0L593.0 429.5L593.1 428.0L593.2 426.5L593.3 425.0L593.4 423.5L593.5 422.0L593.7 420.5L593.8 419.0L594.0 417.5L594.2 416.0L594.4 414.6L594.7 413.1L595.0 411.6L595.3 410.1L595.7 408.7L596.1 407.2L596.5 405.8L596.9 404.3L597.3 402.9L597.8 401.5L598.2 400.0L598.6 398.6L599.0 397.1L599.5 395.7L599.9 394.3L600.3 392.8L600.7 391.4L601.1 389.9L601.5 388.5L601.9 387.0L602.3 385.6L602.7 384.1L603.1 382.7L603.5 381.2L603.9 379.8L604.3 378.3L604.7 376.9L605.1 375.4L605.5 374.0L605.9 372.5L606.3 371.1L606.8 369.7L607.2 368.2L607.7 366.8L608.2 365.4L608.7 364.0L609.2 362.6L609.8 361.2L610.4 359.8L611.0 358.4L611.6 357.1L612.3 355.7L613.0 354.4L613.6 353.0L614.3 351.7L615.0 350.4L615.7 349.0L616.4 347.7L617.1 346.4L617.8 345.0L618.5 343.7L619.2 342.4L620.0 341.1L620.7 339.8L621.4 338.4L622.1 337.1L622.8 335.8L623.6 334.5L624.3 333.2L625.0 331.9L625.8 330.5L626.5 329.2L627.2 327.9L627.9 326.6L628.6 325.3L629.3 324.0L630.1 322.6L630.8 321.3L631.5 320.0L632.3 318.7L633.0 317.4L633.8 316.1L634.5 314.8L635.3 313.5L636.1 312.2L636.9 311.0L637.7 309.7L638.5 308.4L639.4 307.2L640.2 306.0L641.1 304.7L642.0 303.6L642.9 302.4L643.9 301.2L644.9 300.1L645.8 298.9L646.8 297.8L647.8 296.6L648.7 295.5L649.7 294.3L650.6 293.1L651.6 292.0L652.5 290.8L653.4 289.6L654.3 288.4L655.2 287.2L656.1 285.9L657.0 284.7L657.8 283.5L658.7 282.3L659.7 281.1L660.6 279.9L661.5 278.7L662.4 277.6L663.4 276.4L664.4 275.3L665.4 274.1L666.4 273.1L667.4 272.0L668.6 271.0L669.7 270.1L671.0 269.3L672.4 268.7L673.8 268.3Z" fill="#1a3554"/>
<path d="M669.0 291.2L670.4 291.4L671.8 292.0L673.0 292.8L673.9 294.0L674.5 295.3L675.0 296.8L675.2 298.2L675.4 299.7L675.4 301.2L675.5 302.7L675.4 304.2L675.4 305.7L675.4 307.2L675.5 308.7L675.5 310.2L675.6 311.7L675.7 313.2L675.8 314.7L675.9 316.2L675.9 317.7L675.9 319.2L675.9 320.7L675.8 322.2L675.7 323.7L675.5 325.2L675.3 326.7L675.0 328.2L674.7 329.7L674.4 331.1L674.0 332.6L673.7 334.0L673.3 335.5L672.8 336.9L672.4 338.4L672.0 339.8L671.5 341.2L671.0 342.7L670.6 344.1L670.1 345.5L669.6 346.9L669.2 348.4L668.7 349.8L668.2 351.2L667.7 352.6L667.3 354.1L666.8 355.5L666.4 356.9L665.9 358.4L665.5 359.8L665.1 361.3L664.7 362.7L664.3 364.1L663.9 365.6L663.5 367.0L663.1 368.5L662.7 369.9L662.3 371.4L661.8 372.8L661.4 374.2L660.9 375.7L660.4 377.1L659.9 378.5L659.3 379.9L658.8 381.3L658.3 382.7L657.8 384.1L657.2 385.5L656.7 386.9L656.2 388.4L655.7 389.8L655.2 391.2L654.6 392.6L654.1 394.0L653.6 395.4L653.0 396.8L652.5 398.2L651.9 399.6L651.4 401.0L650.8 402.4L650.3 403.8L649.7 405.2L649.1 406.5L648.5 407.9L647.9 409.3L647.2 410.6L646.5 412.0L645.8 413.3L645.0 414.6L644.2 415.9L643.4 417.1L642.6 418.4L641.8 419.6L641.0 420.9L640.1 422.1L639.2 423.3L638.3 424.5L637.4 425.7L636.4 426.9L635.4 428.0L634.5 429.2L633.5 430.3L632.5 431.4L631.4 432.4L630.3 433.5L629.2 434.4L628.0 435.4L626.8 436.3L625.6 437.2L624.4 438.1L623.1 438.9L621.9 439.8L620.6 440.6L619.4 441.4L618.1 442.2L616.8 443.0L615.6 443.8L614.3 444.6L613.0 445.4L611.7 446.2L610.4 446.9L609.1 447.6L607.8 448.3L606.4 448.9L605.0 449.4L603.5 449.7L602.0 449.8L600.6 449.5L599.4 448.8L598.6 447.6L598.3 446.3L598.3 444.8L598.6 443.3L599.1 441.9L599.6 440.5L600.1 439.1L600.7 437.7L601.2 436.3L601.6 434.8L601.9 433.4L602.1 431.9L602.1 430.4L602.0 428.9L601.7 427.4L601.4 425.9L601.1 424.5L600.9 423.0L600.7 421.5L600.6 420.0L600.5 418.5L600.5 417.0L600.5 415.5L600.5 414.0L600.6 412.5L600.8 411.0L601.0 409.5L601.3 408.0L601.6 406.6L602.0 405.1L602.3 403.7L602.7 402.2L603.1 400.8L603.5 399.3L603.9 397.9L604.3 396.4L604.6 395.0L605.0 393.5L605.4 392.1L605.8 390.6L606.2 389.1L606.6 387.7L606.9 386.2L607.3 384.8L607.7 383.3L608.1 381.9L608.5 380.4L608.9 379.0L609.3 377.5L609.7 376.1L610.1 374.6L610.5 373.2L610.9 371.8L611.4 370.3L611.8 368.9L612.3 367.5L612.7 366.0L613.3 364.6L613.8 363.2L614.4 361.8L615.0 360.4L615.6 359.1L616.2 357.7L616.9 356.4L617.6 355.0L618.3 353.7L619.0 352.4L619.7 351.1L620.4 349.7L621.1 348.4L621.9 347.1L622.6 345.8L623.3 344.5L624.1 343.2L624.8 341.9L625.6 340.6L626.4 339.3L627.1 338.0L627.9 336.7L628.6 335.4L629.4 334.1L630.2 332.8L630.9 331.5L631.7 330.2L632.4 328.9L633.2 327.6L633.9 326.3L634.7 325.0L635.4 323.7L636.2 322.4L637.0 321.1L637.7 319.9L638.5 318.6L639.3 317.3L640.2 316.1L641.0 314.8L641.9 313.6L642.7 312.3L643.6 311.1L644.5 309.9L645.4 308.7L646.4 307.6L647.3 306.4L648.3 305.3L649.3 304.2L650.4 303.1L651.5 302.1L652.6 301.1L653.7 300.1L654.9 299.1L656.0 298.1L657.2 297.2L658.4 296.3L659.6 295.4L660.8 294.5L662.1 293.7L663.4 293.0L664.7 292.3L666.1 291.7L667.5 291.4Z" fill="#1f4267"/>
<path d="M660.0 308.2L661.4 308.4L662.8 309.0L664.0 309.8L665.0 310.9L665.8 312.2L666.5 313.5L667.1 314.9L667.5 316.3L667.9 317.8L668.2 319.2L668.4 320.7L668.5 322.2L668.5 323.7L668.4 325.2L668.3 326.7L668.0 328.2L667.8 329.7L667.4 331.1L667.1 332.6L666.7 334.0L666.3 335.5L665.9 336.9L665.5 338.4L665.0 339.8L664.5 341.2L664.1 342.6L663.6 344.1L663.1 345.5L662.6 346.9L662.1 348.3L661.6 349.8L661.2 351.2L660.7 352.6L660.2 354.0L659.8 355.5L659.4 356.9L659.0 358.3L658.6 359.8L658.2 361.2L657.8 362.7L657.5 364.2L657.1 365.6L656.8 367.1L656.6 368.6L656.3 370.0L655.9 371.5L655.6 373.0L655.2 374.4L654.8 375.9L654.4 377.3L653.9 378.7L653.5 380.2L653.0 381.6L652.5 383.0L652.1 384.4L651.6 385.9L651.1 387.3L650.7 388.7L650.2 390.1L649.7 391.6L649.2 393.0L648.7 394.4L648.2 395.8L647.7 397.2L647.2 398.6L646.7 400.0L646.1 401.5L645.6 402.9L645.1 404.3L644.5 405.6L643.9 407.0L643.2 408.4L642.6 409.7L641.9 411.1L641.1 412.3L640.3 413.6L639.5 414.9L638.6 416.1L637.7 417.3L636.7 418.4L635.8 419.6L634.8 420.7L633.8 421.8L632.7 422.9L631.6 423.9L630.5 424.9L629.3 425.8L628.1 426.7L626.8 427.5L625.5 428.2L624.2 428.8L622.7 429.3L621.3 429.7L619.8 429.8L618.4 429.6L616.9 429.3L615.5 428.8L614.2 428.0L613.0 427.1L611.9 426.1L610.9 425.0L610.0 423.8L609.2 422.6L608.5 421.2L608.0 419.9L607.5 418.4L607.1 417.0L606.7 415.5L606.5 414.1L606.3 412.6L606.3 411.1L606.4 409.6L606.5 408.1L606.8 406.6L607.0 405.1L607.3 403.7L607.7 402.2L608.0 400.7L608.4 399.3L608.7 397.8L609.1 396.4L609.4 394.9L609.8 393.4L610.1 392.0L610.5 390.5L610.8 389.1L611.2 387.6L611.6 386.2L612.0 384.7L612.3 383.2L612.7 381.8L613.1 380.3L613.5 378.9L613.9 377.5L614.3 376.0L614.7 374.6L615.1 373.1L615.6 371.7L616.0 370.2L616.5 368.8L616.9 367.4L617.4 366.0L618.0 364.6L618.5 363.2L619.1 361.8L619.7 360.4L620.4 359.1L621.0 357.7L621.7 356.4L622.4 355.1L623.2 353.8L623.9 352.5L624.6 351.1L625.4 349.8L626.2 348.6L626.9 347.3L627.7 346.0L628.5 344.7L629.3 343.4L630.1 342.2L630.9 340.9L631.7 339.6L632.5 338.4L633.3 337.1L634.1 335.8L634.9 334.6L635.7 333.3L636.6 332.0L637.4 330.8L638.2 329.5L639.0 328.3L639.8 327.0L640.6 325.7L641.4 324.5L642.2 323.2L643.1 322.0L644.0 320.7L644.9 319.5L645.8 318.4L646.7 317.2L647.7 316.1L648.8 315.0L649.8 313.9L650.9 312.9L652.0 311.9L653.2 311.0L654.5 310.1L655.7 309.4L657.1 308.8L658.5 308.4Z" fill="#254f7b"/>
<path d="M654.0 325.3L655.3 325.7L656.4 326.6L657.1 327.8L657.4 329.3L657.5 330.7L657.5 332.2L657.4 333.7L657.2 335.2L656.9 336.7L656.6 338.2L656.2 339.6L655.8 341.1L655.4 342.5L655.0 344.0L654.6 345.4L654.1 346.8L653.7 348.3L653.3 349.7L652.8 351.1L652.4 352.6L652.0 354.0L651.6 355.5L651.3 356.9L650.9 358.4L650.6 359.9L650.3 361.3L650.1 362.8L649.9 364.3L649.7 365.8L649.5 367.3L649.4 368.8L649.2 370.3L649.1 371.8L648.8 373.2L648.5 374.7L648.2 376.2L647.9 377.6L647.5 379.1L647.2 380.5L646.8 382.0L646.4 383.4L646.0 384.9L645.6 386.3L645.2 387.8L644.8 389.2L644.3 390.7L643.9 392.1L643.4 393.5L642.9 394.9L642.5 396.4L642.0 397.8L641.5 399.2L641.0 400.6L640.5 402.0L640.0 403.4L639.4 404.8L638.8 406.2L638.1 407.5L637.4 408.9L636.7 410.2L635.9 411.4L635.0 412.6L634.0 413.8L633.0 414.8L631.8 415.8L630.7 416.8L629.4 417.6L628.1 418.4L626.8 419.0L625.4 419.4L623.9 419.7L622.4 419.8L621.0 419.6L619.5 419.2L618.2 418.6L616.9 417.9L615.8 416.9L614.7 415.8L613.9 414.6L613.2 413.3L612.7 411.9L612.4 410.4L612.4 408.9L612.4 407.4L612.5 405.9L612.6 404.4L612.9 402.9L613.1 401.5L613.4 400.0L613.7 398.5L614.0 397.1L614.3 395.6L614.6 394.1L615.0 392.7L615.3 391.2L615.6 389.7L616.0 388.3L616.3 386.8L616.7 385.4L617.1 383.9L617.4 382.5L617.8 381.0L618.2 379.6L618.6 378.1L619.1 376.7L619.5 375.2L619.9 373.8L620.3 372.4L620.8 370.9L621.3 369.5L621.8 368.1L622.4 366.7L622.9 365.3L623.5 363.9L624.1 362.6L624.8 361.2L625.4 359.9L626.1 358.5L626.9 357.2L627.6 355.9L628.4 354.6L629.2 353.4L630.0 352.1L630.8 350.8L631.6 349.6L632.4 348.3L633.3 347.1L634.1 345.9L635.0 344.6L635.9 343.4L636.8 342.2L637.7 341.0L638.6 339.8L639.5 338.6L640.4 337.4L641.3 336.2L642.3 335.1L643.2 333.9L644.2 332.8L645.2 331.6L646.2 330.5L647.2 329.5L648.3 328.4L649.4 327.4L650.6 326.5L651.9 325.8L653.3 325.4Z" fill="#2b5e91"/>
<path d="M634.0 365.4L635.3 365.7L636.5 366.5L637.4 367.6L638.2 368.9L638.7 370.3L639.1 371.8L639.2 373.3L639.3 374.8L639.2 376.3L639.1 377.8L639.0 379.3L638.8 380.8L638.6 382.2L638.4 383.7L638.1 385.2L637.8 386.7L637.4 388.1L637.1 389.6L636.7 391.0L636.2 392.5L635.8 393.9L635.3 395.4L634.9 396.8L634.4 398.2L633.8 399.6L633.3 401.0L632.8 402.4L632.1 403.8L631.4 405.1L630.5 406.3L629.6 407.4L628.4 408.4L627.2 409.2L625.8 409.6L624.4 409.6L623.0 409.2L621.9 408.3L621.1 407.0L620.6 405.6L620.4 404.2L620.4 402.7L620.5 401.2L620.6 399.7L620.8 398.2L621.0 396.7L621.2 395.2L621.4 393.7L621.7 392.2L622.0 390.8L622.2 389.3L622.6 387.8L622.9 386.3L623.3 384.9L623.7 383.4L624.1 382.0L624.6 380.6L625.0 379.1L625.5 377.7L626.0 376.3L626.6 374.9L627.1 373.5L627.7 372.1L628.4 370.8L629.2 369.5L630.0 368.3L631.0 367.1L632.1 366.1L633.3 365.5Z" fill="#316da8"/>
<line x1="457.73" y1="780.02" x2="787.58" y2="15.28" stroke="#000" stroke-width="2.96" stroke-dasharray="11.86 11.86" stroke-dashoffset="3.05"/>
<path d="M499.5 613.6L510.9 593.6L522.3 573.6L533.7 553.6L545.0 533.6L556.4 513.6L567.8 493.6L579.2 473.5L590.6 453.4L602.0 433.2L613.4 413.0L624.7 392.6L636.1 372.1L647.5 351.5L658.9 330.6L670.3 309.7L681.7 288.6L693.0 267.6L704.4 246.4L715.8 225.3L727.2 204.1L738.6 182.9L750.0 161.7L761.4 140.5L772.7 119.3L772.7 135.7L761.4 155.7L750.0 175.7L738.6 195.7L727.2 215.7L715.8 235.7L704.4 255.7L693.0 275.8L681.7 295.9L670.3 316.0L658.9 336.3L647.5 356.6L636.1 377.1L624.7 397.8L613.4 418.6L602.0 439.6L590.6 460.6L579.2 481.7L567.8 502.8L556.4 524.0L545.0 545.2L533.7 566.4L522.3 587.6L510.9 608.8L499.5 630.0Z" fill="#878787" fill-opacity="0.4"/>
<line x1="499.50" y1="621.77" x2="772.74" y2="127.50" stroke="#264aff" stroke-width="5.93"/>
</g>
<path class="tk" d="M501.88 774.7v7.6M569.38 774.7v7.6M636.88 774.7v7.6M704.38 774.7v7.6M771.88 774.7v7.6"/>
<text class="ax" transform="translate(501.88 806.35) scale(1 1.035)" text-anchor="middle">0.00</text>
<text class="ax" transform="translate(569.38 806.35) scale(1 1.035)" text-anchor="middle">0.25</text>
<text class="ax" transform="translate(636.88 806.35) scale(1 1.035)" text-anchor="middle">0.50</text>
<text class="ax" transform="translate(704.38 806.35) scale(1 1.035)" text-anchor="middle">0.75</text>
<text class="ax" transform="translate(771.88 806.35) scale(1 1.035)" text-anchor="middle">1.00</text>
</g>
<g>
<rect x="803.0" y="15.2" width="330.1" height="46.8" fill="#d0d0d0"/>
<text class="st" x="968.0" y="48.2" text-anchor="middle">X: MI_LOGT vs Y: MI_T</text>
<rect x="803.0" y="62.0" width="330.1" height="712.7" fill="#e6e6e6"/>
<g clip-path="url(#c2)">
<path class="gm" d="M813.50 62.0V774.7M803.0 755.69H1133.1M881.00 62.0V774.7M803.0 599.31H1133.1M948.50 62.0V774.7M803.0 442.94H1133.1M1016.00 62.0V774.7M803.0 286.56H1133.1M1083.50 62.0V774.7M803.0 130.19H1133.1"/>
<path class="gM" d="M847.25 62.0V774.7M914.75 62.0V774.7M982.25 62.0V774.7M1049.75 62.0V774.7M1117.25 62.0V774.7M803.0 677.50H1133.1M803.0 521.12H1133.1M803.0 364.75H1133.1M803.0 208.38H1133.1"/>
<path d="M1049.5 184.4L1050.9 184.6L1052.1 185.2L1053.2 186.1L1054.1 187.3L1054.7 188.6L1055.2 190.0L1055.6 191.5L1055.9 192.9L1056.2 194.4L1056.5 195.9L1056.7 197.4L1056.9 198.8L1057.1 200.3L1057.3 201.8L1057.4 203.3L1057.6 204.8L1057.8 206.3L1057.9 207.8L1058.1 209.3L1058.2 210.8L1058.3 212.3L1058.4 213.8L1058.5 215.3L1058.5 216.8L1058.5 218.3L1058.4 219.8L1058.3 221.3L1058.2 222.7L1058.1 224.2L1057.9 225.7L1057.7 227.2L1057.5 228.7L1057.3 230.2L1057.1 231.7L1056.8 233.2L1056.6 234.6L1056.3 236.1L1056.0 237.6L1055.7 239.1L1055.4 240.5L1055.1 242.0L1054.8 243.5L1054.5 244.9L1054.2 246.4L1053.8 247.9L1053.5 249.3L1053.1 250.8L1052.7 252.2L1052.3 253.7L1052.0 255.1L1051.6 256.6L1051.3 258.0L1050.9 259.5L1050.6 261.0L1050.2 262.4L1049.8 263.9L1049.4 265.3L1049.1 266.8L1048.6 268.2L1048.2 269.7L1047.8 271.1L1047.4 272.5L1046.9 274.0L1046.5 275.4L1046.0 276.8L1045.6 278.3L1045.1 279.7L1044.6 281.1L1044.1 282.5L1043.6 283.9L1043.1 285.4L1042.6 286.8L1042.1 288.2L1041.6 289.6L1041.1 291.0L1040.6 292.4L1040.1 293.8L1039.5 295.2L1039.0 296.6L1038.4 298.0L1037.9 299.4L1037.3 300.8L1036.8 302.2L1036.3 303.6L1035.7 305.0L1035.2 306.4L1034.7 307.8L1034.2 309.3L1033.8 310.7L1033.3 312.1L1032.9 313.5L1032.4 315.0L1032.0 316.4L1031.6 317.9L1031.2 319.3L1030.8 320.8L1030.5 322.2L1030.1 323.7L1029.8 325.1L1029.5 326.6L1029.1 328.1L1028.8 329.5L1028.5 331.0L1028.1 332.4L1027.8 333.9L1027.4 335.4L1027.0 336.8L1026.6 338.3L1026.2 339.7L1025.7 341.1L1025.3 342.6L1024.9 344.0L1024.4 345.4L1024.0 346.9L1023.5 348.3L1023.1 349.7L1022.6 351.2L1022.2 352.6L1021.7 354.0L1021.2 355.4L1020.8 356.9L1020.3 358.3L1019.8 359.7L1019.3 361.1L1018.8 362.6L1018.4 364.0L1017.9 365.4L1017.4 366.8L1016.9 368.2L1016.4 369.6L1015.9 371.0L1015.3 372.5L1014.8 373.9L1014.3 375.3L1013.8 376.7L1013.2 378.1L1012.7 379.5L1012.2 380.9L1011.6 382.3L1011.0 383.7L1010.5 385.0L1009.9 386.4L1009.3 387.8L1008.8 389.2L1008.2 390.6L1007.6 392.0L1007.0 393.4L1006.4 394.7L1005.8 396.1L1005.2 397.5L1004.6 398.9L1004.0 400.2L1003.4 401.6L1002.7 403.0L1002.1 404.3L1001.5 405.7L1000.9 407.0L1000.2 408.4L999.6 409.8L999.0 411.1L998.3 412.5L997.7 413.8L997.1 415.2L996.4 416.6L995.8 417.9L995.2 419.3L994.5 420.6L993.9 422.0L993.2 423.3L992.6 424.7L991.9 426.1L991.3 427.4L990.6 428.8L990.0 430.1L989.3 431.4L988.6 432.8L987.9 434.1L987.3 435.5L986.6 436.8L985.9 438.1L985.2 439.5L984.6 440.8L983.9 442.2L983.3 443.5L982.7 444.9L982.1 446.3L981.4 447.6L980.8 449.0L980.2 450.4L979.6 451.7L979.0 453.1L978.3 454.5L977.7 455.8L977.1 457.2L976.5 458.6L975.8 459.9L975.2 461.3L974.6 462.7L973.9 464.0L973.3 465.4L972.6 466.7L972.0 468.1L971.3 469.4L970.7 470.8L970.0 472.1L969.3 473.4L968.6 474.8L968.0 476.1L967.3 477.4L966.6 478.8L965.9 480.1L965.2 481.4L964.4 482.7L963.7 484.1L963.0 485.4L962.3 486.7L961.5 488.0L960.7 489.3L960.0 490.6L959.2 491.8L958.4 493.1L957.6 494.4L956.7 495.6L955.9 496.9L955.1 498.1L954.2 499.3L953.3 500.5L952.3 501.7L951.4 502.9L950.5 504.0L949.5 505.2L948.6 506.3L947.6 507.5L946.6 508.6L945.7 509.8L944.7 511.0L943.8 512.1L942.9 513.3L942.0 514.5L941.0 515.7L940.1 516.9L939.2 518.1L938.3 519.3L937.4 520.5L936.5 521.7L935.6 522.9L934.7 524.1L933.8 525.3L932.9 526.5L932.0 527.7L931.1 528.9L930.2 530.1L929.4 531.3L928.4 532.5L927.5 533.7L926.6 534.8L925.6 536.0L924.5 537.1L923.5 538.1L922.4 539.2L921.3 540.1L920.1 541.0L918.8 541.9L917.5 542.6L916.2 543.3L914.8 543.8L913.4 544.3L912.0 544.7L910.5 544.8L909.1 544.7L907.7 544.3L906.6 543.5L905.6 542.5L904.9 541.2L904.3 539.8L903.8 538.4L903.5 537.0L903.3 535.5L903.1 534.0L903.0 532.5L902.9 531.0L902.9 529.5L903.0 528.0L903.1 526.5L903.2 525.0L903.4 523.5L903.6 522.0L903.9 520.6L904.2 519.1L904.5 517.6L904.9 516.2L905.3 514.7L905.7 513.3L906.1 511.9L906.5 510.4L907.0 509.0L907.5 507.6L908.1 506.2L908.5 504.8L909.0 503.3L909.4 501.9L909.9 500.5L910.3 499.0L910.7 497.6L911.1 496.2L911.5 494.7L911.9 493.3L912.3 491.8L912.6 490.3L913.0 488.9L913.3 487.4L913.6 486.0L914.0 484.5L914.3 483.0L914.6 481.6L915.0 480.1L915.3 478.6L915.7 477.2L916.1 475.7L916.5 474.3L916.8 472.8L917.2 471.4L917.5 469.9L917.9 468.5L918.2 467.0L918.5 465.5L918.8 464.1L919.1 462.6L919.4 461.1L919.6 459.6L919.9 458.2L920.2 456.7L920.5 455.2L920.7 453.7L921.0 452.3L921.3 450.8L921.5 449.3L921.8 447.8L922.1 446.4L922.4 444.9L922.7 443.4L923.0 441.9L923.3 440.5L923.7 439.0L924.0 437.6L924.4 436.1L924.7 434.6L925.1 433.2L925.4 431.7L925.8 430.3L926.2 428.8L926.6 427.4L927.0 425.9L927.5 424.5L927.9 423.1L928.4 421.7L928.9 420.2L929.4 418.8L929.9 417.4L930.4 416.0L930.9 414.6L931.4 413.2L931.9 411.7L932.4 410.3L932.9 408.9L933.4 407.5L933.9 406.1L934.4 404.7L935.0 403.3L935.5 401.9L936.0 400.5L936.5 399.1L937.0 397.7L937.5 396.2L938.1 394.8L938.6 393.4L939.0 392.0L939.5 390.6L940.0 389.2L940.5 387.7L941.0 386.3L941.5 384.9L941.9 383.5L942.4 382.1L942.9 380.6L943.4 379.2L943.9 377.8L944.4 376.4L944.9 375.0L945.4 373.6L945.9 372.2L946.5 370.7L947.0 369.3L947.5 367.9L948.0 366.5L948.6 365.1L949.1 363.7L949.7 362.3L950.3 361.0L950.8 359.6L951.4 358.2L952.0 356.8L952.6 355.4L953.2 354.1L953.8 352.7L954.4 351.3L955.0 349.9L955.6 348.6L956.2 347.2L956.8 345.8L957.3 344.4L957.9 343.0L958.5 341.6L959.0 340.2L959.6 338.8L960.1 337.4L960.6 336.0L961.2 334.6L961.7 333.2L962.2 331.8L962.7 330.4L963.2 329.0L963.8 327.6L964.3 326.2L964.8 324.8L965.4 323.4L965.9 322.0L966.5 320.6L967.0 319.2L967.6 317.8L968.1 316.4L968.7 315.0L969.2 313.6L969.8 312.2L970.4 310.9L971.0 309.5L971.6 308.1L972.2 306.7L972.8 305.4L973.5 304.0L974.1 302.6L974.7 301.3L975.3 299.9L976.0 298.6L976.6 297.2L977.3 295.8L977.9 294.5L978.6 293.2L979.3 291.8L979.9 290.5L980.6 289.1L981.3 287.8L982.0 286.5L982.7 285.1L983.4 283.8L984.1 282.5L984.8 281.1L985.5 279.8L986.2 278.5L986.9 277.2L987.7 275.9L988.4 274.6L989.1 273.3L989.9 272.0L990.6 270.6L991.3 269.3L992.1 268.0L992.8 266.7L993.5 265.4L994.3 264.1L995.0 262.8L995.8 261.5L996.5 260.2L997.2 258.9L997.9 257.6L998.6 256.2L999.3 254.9L999.9 253.5L1000.6 252.2L1001.2 250.8L1001.8 249.4L1002.4 248.1L1003.0 246.7L1003.6 245.3L1004.2 243.9L1004.8 242.6L1005.4 241.2L1006.0 239.8L1006.6 238.4L1007.2 237.1L1007.8 235.7L1008.3 234.3L1008.9 232.9L1009.5 231.5L1010.1 230.1L1010.7 228.8L1011.3 227.4L1012.0 226.0L1012.6 224.7L1013.3 223.4L1014.0 222.0L1014.7 220.7L1015.4 219.4L1016.1 218.1L1016.8 216.7L1017.5 215.4L1018.3 214.1L1019.0 212.8L1019.7 211.5L1020.5 210.2L1021.2 208.9L1022.0 207.6L1022.8 206.3L1023.7 205.1L1024.5 203.9L1025.4 202.7L1026.4 201.5L1027.3 200.4L1028.3 199.2L1029.3 198.1L1030.4 197.0L1031.4 196.0L1032.5 194.9L1033.6 193.9L1034.7 192.9L1035.8 191.9L1037.0 190.9L1038.1 190.0L1039.3 189.1L1040.5 188.2L1041.8 187.4L1043.1 186.6L1044.4 185.9L1045.7 185.2L1047.1 184.7L1048.5 184.4Z" fill="#102033"/>
<path d="M1040.0 210.2L1041.4 210.5L1042.8 211.1L1043.9 212.0L1044.9 213.1L1045.7 214.4L1046.3 215.7L1046.9 217.1L1047.4 218.5L1047.7 220.0L1048.0 221.4L1048.2 222.9L1048.4 224.4L1048.5 225.9L1048.5 227.4L1048.4 228.9L1048.3 230.4L1048.2 231.9L1048.0 233.4L1047.8 234.9L1047.5 236.4L1047.3 237.8L1047.0 239.3L1046.7 240.8L1046.4 242.3L1046.0 243.7L1045.7 245.2L1045.4 246.6L1045.0 248.1L1044.6 249.6L1044.3 251.0L1043.9 252.5L1043.5 253.9L1043.2 255.4L1042.8 256.8L1042.5 258.3L1042.2 259.8L1041.8 261.2L1041.5 262.7L1041.2 264.2L1040.9 265.6L1040.5 267.1L1040.2 268.6L1039.8 270.0L1039.5 271.5L1039.1 272.9L1038.7 274.4L1038.3 275.8L1038.0 277.3L1037.6 278.7L1037.2 280.2L1036.8 281.6L1036.4 283.1L1036.0 284.5L1035.5 286.0L1035.1 287.4L1034.7 288.8L1034.3 290.3L1033.9 291.7L1033.4 293.2L1033.0 294.6L1032.5 296.0L1032.1 297.5L1031.6 298.9L1031.1 300.3L1030.6 301.7L1030.1 303.1L1029.6 304.5L1029.1 306.0L1028.6 307.4L1028.1 308.8L1027.7 310.2L1027.2 311.7L1026.8 313.1L1026.4 314.5L1026.0 316.0L1025.6 317.4L1025.2 318.9L1024.8 320.4L1024.5 321.8L1024.1 323.3L1023.8 324.7L1023.5 326.2L1023.2 327.7L1022.8 329.1L1022.5 330.6L1022.2 332.1L1021.9 333.5L1021.6 335.0L1021.2 336.5L1020.9 337.9L1020.5 339.4L1020.1 340.8L1019.7 342.3L1019.2 343.7L1018.8 345.1L1018.4 346.6L1017.9 348.0L1017.5 349.4L1017.0 350.9L1016.6 352.3L1016.1 353.7L1015.6 355.2L1015.2 356.6L1014.7 358.0L1014.2 359.4L1013.8 360.9L1013.3 362.3L1012.8 363.7L1012.3 365.1L1011.8 366.5L1011.3 368.0L1010.8 369.4L1010.3 370.8L1009.8 372.2L1009.3 373.6L1008.8 375.0L1008.3 376.5L1007.8 377.9L1007.3 379.3L1006.7 380.7L1006.2 382.1L1005.7 383.5L1005.1 384.9L1004.6 386.3L1004.0 387.7L1003.4 389.1L1002.9 390.4L1002.3 391.8L1001.7 393.2L1001.2 394.6L1000.6 396.0L1000.0 397.4L999.4 398.8L998.8 400.1L998.2 401.5L997.6 402.9L997.0 404.2L996.3 405.6L995.7 407.0L995.1 408.3L994.5 409.7L993.8 411.1L993.2 412.4L992.5 413.8L991.9 415.1L991.2 416.5L990.5 417.8L989.8 419.1L989.1 420.5L988.4 421.8L987.7 423.1L987.0 424.4L986.2 425.7L985.6 427.1L984.9 428.4L984.2 429.7L983.5 431.1L982.8 432.4L982.1 433.7L981.4 435.1L980.7 436.4L980.1 437.7L979.4 439.1L978.7 440.4L978.0 441.8L977.4 443.1L976.7 444.5L976.1 445.8L975.4 447.2L974.8 448.5L974.1 449.9L973.5 451.2L972.8 452.6L972.2 453.9L971.5 455.3L970.9 456.7L970.2 458.0L969.6 459.4L968.9 460.7L968.3 462.1L967.6 463.4L966.9 464.7L966.2 466.1L965.5 467.4L964.8 468.7L964.1 470.0L963.4 471.3L962.6 472.6L961.9 473.9L961.1 475.2L960.3 476.5L959.5 477.8L958.7 479.0L957.9 480.3L957.0 481.5L956.2 482.8L955.3 484.0L954.4 485.2L953.5 486.4L952.6 487.6L951.7 488.8L950.7 489.9L949.8 491.1L948.8 492.2L947.7 493.3L946.7 494.4L945.6 495.4L944.5 496.5L943.4 497.4L942.2 498.4L941.1 499.4L939.9 500.3L938.7 501.1L937.4 502.0L936.1 502.8L934.8 503.5L933.5 504.2L932.1 504.7L930.7 505.1L929.2 505.3L927.8 505.1L926.4 504.5L925.3 503.6L924.4 502.4L923.8 501.1L923.3 499.7L922.9 498.2L922.7 496.8L922.5 495.3L922.4 493.8L922.4 492.3L922.4 490.8L922.4 489.3L922.4 487.8L922.4 486.3L922.5 484.8L922.5 483.3L922.6 481.8L922.7 480.3L922.9 478.8L923.1 477.3L923.3 475.8L923.5 474.3L923.8 472.8L924.0 471.4L924.3 469.9L924.5 468.4L924.8 466.9L925.1 465.4L925.3 464.0L925.6 462.5L925.9 461.0L926.2 459.5L926.5 458.1L926.8 456.6L927.0 455.1L927.3 453.6L927.6 452.2L927.9 450.7L928.2 449.2L928.4 447.7L928.7 446.3L929.0 444.8L929.3 443.3L929.6 441.9L929.9 440.4L930.2 438.9L930.5 437.4L930.8 436.0L931.1 434.5L931.4 433.0L931.7 431.6L932.1 430.1L932.4 428.6L932.8 427.2L933.2 425.7L933.6 424.3L934.0 422.9L934.5 421.4L935.0 420.0L935.5 418.6L936.0 417.2L936.5 415.8L937.0 414.4L937.5 413.0L938.0 411.5L938.5 410.1L939.0 408.7L939.5 407.3L940.0 405.9L940.5 404.5L941.0 403.0L941.5 401.6L942.0 400.2L942.5 398.8L943.0 397.4L943.5 396.0L944.0 394.6L944.5 393.1L945.0 391.7L945.5 390.3L945.9 388.9L946.4 387.4L946.9 386.0L947.4 384.6L947.8 383.2L948.3 381.7L948.8 380.3L949.3 378.9L949.8 377.5L950.3 376.1L950.8 374.6L951.3 373.2L951.8 371.8L952.3 370.4L952.8 369.0L953.3 367.6L953.8 366.2L954.3 364.8L954.9 363.4L955.4 362.0L956.0 360.6L956.6 359.2L957.1 357.8L957.7 356.4L958.3 355.0L958.9 353.6L959.4 352.3L960.0 350.9L960.6 349.5L961.2 348.1L961.7 346.7L962.3 345.3L962.8 343.9L963.4 342.5L963.9 341.1L964.5 339.7L965.0 338.3L965.5 336.9L966.0 335.5L966.6 334.1L967.1 332.7L967.6 331.3L968.1 329.9L968.7 328.5L969.2 327.1L969.8 325.7L970.4 324.3L971.0 322.9L971.6 321.6L972.2 320.2L972.8 318.8L973.5 317.5L974.1 316.1L974.8 314.7L975.4 313.4L976.1 312.0L976.8 310.7L977.4 309.4L978.1 308.0L978.8 306.7L979.5 305.4L980.3 304.1L981.0 302.7L981.7 301.4L982.4 300.1L983.0 298.7L983.7 297.4L984.4 296.1L985.1 294.7L985.7 293.4L986.4 292.0L987.1 290.7L987.8 289.4L988.5 288.0L989.1 286.7L989.8 285.4L990.5 284.0L991.2 282.7L992.0 281.4L992.7 280.1L993.4 278.7L994.1 277.4L994.8 276.1L995.6 274.8L996.3 273.5L997.0 272.2L997.8 270.9L998.5 269.6L999.2 268.2L1000.0 266.9L1000.7 265.6L1001.5 264.3L1002.2 263.0L1002.9 261.7L1003.7 260.4L1004.4 259.1L1005.1 257.8L1005.9 256.5L1006.6 255.2L1007.3 253.8L1008.0 252.5L1008.7 251.2L1009.4 249.9L1010.1 248.5L1010.8 247.2L1011.4 245.8L1012.1 244.5L1012.8 243.2L1013.5 241.8L1014.2 240.5L1014.9 239.2L1015.6 237.8L1016.3 236.5L1017.0 235.2L1017.7 233.8L1018.4 232.5L1019.1 231.2L1019.8 229.9L1020.5 228.6L1021.3 227.3L1022.1 226.0L1022.9 224.7L1023.7 223.5L1024.6 222.3L1025.5 221.0L1026.4 219.9L1027.3 218.7L1028.3 217.6L1029.3 216.5L1030.4 215.4L1031.5 214.4L1032.6 213.4L1033.8 212.5L1035.1 211.7L1036.4 211.0L1037.8 210.5L1039.3 210.3Z" fill="#152a43"/>
<path d="M1034.5 230.3L1035.8 230.7L1036.9 231.6L1037.5 232.9L1037.9 234.3L1038.1 235.8L1038.1 237.3L1038.1 238.8L1038.0 240.3L1037.8 241.8L1037.6 243.3L1037.4 244.8L1037.2 246.3L1036.9 247.7L1036.6 249.2L1036.3 250.7L1036.0 252.2L1035.7 253.6L1035.5 255.1L1035.2 256.6L1034.9 258.1L1034.7 259.5L1034.5 261.0L1034.2 262.5L1034.0 264.0L1033.8 265.5L1033.5 267.0L1033.3 268.4L1033.0 269.9L1032.8 271.4L1032.5 272.9L1032.2 274.4L1031.9 275.8L1031.6 277.3L1031.4 278.8L1031.1 280.2L1030.7 281.7L1030.4 283.2L1030.1 284.6L1029.8 286.1L1029.5 287.6L1029.2 289.1L1028.8 290.5L1028.5 292.0L1028.2 293.4L1027.8 294.9L1027.5 296.4L1027.1 297.8L1026.7 299.3L1026.2 300.7L1025.8 302.1L1025.3 303.6L1024.8 305.0L1024.3 306.4L1023.9 307.8L1023.4 309.3L1023.0 310.7L1022.6 312.1L1022.2 313.6L1021.8 315.0L1021.5 316.5L1021.1 318.0L1020.8 319.4L1020.4 320.9L1020.1 322.3L1019.7 323.8L1019.4 325.3L1019.1 326.7L1018.8 328.2L1018.5 329.7L1018.2 331.2L1018.0 332.6L1017.7 334.1L1017.4 335.6L1017.0 337.1L1016.7 338.5L1016.3 340.0L1016.0 341.4L1015.5 342.9L1015.1 344.3L1014.7 345.7L1014.2 347.2L1013.8 348.6L1013.4 350.1L1012.9 351.5L1012.4 352.9L1012.0 354.3L1011.5 355.8L1011.1 357.2L1010.6 358.6L1010.1 360.1L1009.7 361.5L1009.2 362.9L1008.7 364.3L1008.2 365.8L1007.8 367.2L1007.3 368.6L1006.8 370.0L1006.3 371.4L1005.8 372.9L1005.3 374.3L1004.8 375.7L1004.3 377.1L1003.8 378.5L1003.2 379.9L1002.7 381.3L1002.2 382.7L1001.6 384.1L1001.1 385.5L1000.6 386.9L1000.0 388.3L999.5 389.7L998.9 391.1L998.4 392.5L997.8 393.9L997.2 395.3L996.7 396.7L996.1 398.1L995.5 399.5L994.9 400.8L994.3 402.2L993.7 403.6L993.1 405.0L992.4 406.3L991.8 407.7L991.2 409.0L990.5 410.4L989.9 411.8L989.2 413.1L988.6 414.4L987.9 415.8L987.2 417.1L986.5 418.4L985.7 419.8L985.0 421.0L984.2 422.3L983.4 423.6L982.6 424.9L981.9 426.2L981.1 427.5L980.4 428.8L979.7 430.1L979.0 431.5L978.3 432.8L977.6 434.1L976.9 435.4L976.2 436.8L975.5 438.1L974.8 439.4L974.1 440.8L973.4 442.1L972.7 443.4L972.0 444.8L971.4 446.1L970.7 447.5L970.0 448.8L969.3 450.1L968.7 451.5L968.0 452.8L967.3 454.2L966.6 455.5L966.0 456.8L965.3 458.2L964.6 459.5L963.9 460.8L963.2 462.2L962.5 463.5L961.7 464.8L961.0 466.1L960.3 467.4L959.5 468.7L958.7 470.0L957.9 471.2L957.0 472.5L956.1 473.7L955.2 474.9L954.3 476.1L953.4 477.3L952.5 478.4L951.5 479.6L950.5 480.7L949.4 481.8L948.4 482.8L947.3 483.8L946.1 484.8L944.9 485.7L943.7 486.5L942.4 487.3L941.0 487.9L939.6 488.4L938.1 488.7L936.7 488.8L935.2 488.5L933.9 487.9L932.8 487.0L931.8 485.8L931.1 484.6L930.5 483.2L930.0 481.8L929.7 480.3L929.5 478.8L929.4 477.3L929.3 475.8L929.3 474.3L929.4 472.8L929.5 471.3L929.6 469.8L929.7 468.3L929.9 466.8L930.2 465.4L930.4 463.9L930.6 462.4L930.9 460.9L931.2 459.4L931.5 458.0L931.7 456.5L932.0 455.0L932.3 453.5L932.6 452.1L932.8 450.6L933.1 449.1L933.3 447.6L933.6 446.1L933.8 444.7L934.1 443.2L934.4 441.7L934.7 440.2L934.9 438.8L935.2 437.3L935.5 435.8L935.8 434.3L936.0 432.8L936.3 431.4L936.5 429.9L936.8 428.4L937.1 426.9L937.5 425.5L937.9 424.0L938.4 422.6L938.9 421.2L939.4 419.8L939.9 418.4L940.4 416.9L940.9 415.5L941.3 414.1L941.8 412.7L942.3 411.3L942.8 409.8L943.3 408.4L943.8 407.0L944.3 405.6L944.8 404.2L945.2 402.7L945.7 401.3L946.2 399.9L946.7 398.5L947.2 397.1L947.7 395.7L948.2 394.2L948.7 392.8L949.1 391.4L949.6 390.0L950.1 388.5L950.5 387.1L951.0 385.7L951.5 384.2L951.9 382.8L952.4 381.4L952.9 380.0L953.4 378.5L953.9 377.1L954.3 375.7L954.8 374.3L955.3 372.9L955.8 371.4L956.3 370.0L956.8 368.6L957.3 367.2L957.8 365.8L958.4 364.4L958.9 363.0L959.4 361.6L960.0 360.2L960.5 358.8L961.1 357.4L961.7 356.0L962.2 354.6L962.8 353.2L963.4 351.8L963.9 350.4L964.5 349.0L965.0 347.6L965.6 346.2L966.1 344.8L966.7 343.4L967.2 342.0L967.7 340.6L968.3 339.2L968.8 337.8L969.3 336.4L969.8 335.0L970.3 333.6L970.9 332.2L971.4 330.8L972.0 329.4L972.5 328.0L973.1 326.6L973.7 325.3L974.4 323.9L975.0 322.5L975.7 321.2L976.3 319.8L977.0 318.5L977.7 317.2L978.4 315.8L979.1 314.5L979.9 313.2L980.6 311.9L981.4 310.6L982.1 309.3L982.9 308.0L983.6 306.7L984.4 305.4L985.2 304.2L986.0 302.9L986.7 301.6L987.5 300.3L988.2 299.0L988.9 297.7L989.7 296.3L990.4 295.0L991.1 293.7L991.8 292.4L992.5 291.0L993.2 289.7L993.9 288.4L994.6 287.0L995.3 285.7L996.0 284.4L996.7 283.1L997.5 281.8L998.2 280.5L999.0 279.2L999.7 277.9L1000.4 276.6L1001.2 275.3L1001.9 274.0L1002.7 272.7L1003.5 271.4L1004.2 270.1L1005.0 268.8L1005.7 267.5L1006.5 266.2L1007.3 264.9L1008.0 263.6L1008.8 262.3L1009.6 261.0L1010.4 259.8L1011.2 258.5L1012.0 257.2L1012.8 255.9L1013.5 254.6L1014.3 253.4L1015.1 252.1L1015.9 250.8L1016.7 249.5L1017.5 248.3L1018.3 247.0L1019.2 245.8L1020.0 244.5L1020.8 243.3L1021.7 242.0L1022.5 240.8L1023.4 239.6L1024.3 238.4L1025.2 237.2L1026.2 236.0L1027.2 234.9L1028.2 233.8L1029.3 232.8L1030.4 231.8L1031.7 231.0L1033.1 230.5Z" fill="#1a3554"/>
<path d="M1021.0 261.4L1022.3 261.7L1023.3 262.7L1024.0 264.0L1024.4 265.4L1024.7 266.9L1024.9 268.4L1025.0 269.9L1025.0 271.4L1025.1 272.9L1025.0 274.4L1025.0 275.9L1024.9 277.4L1024.8 278.8L1024.7 280.3L1024.6 281.8L1024.5 283.3L1024.3 284.8L1024.2 286.3L1024.0 287.8L1023.8 289.3L1023.7 290.8L1023.5 292.3L1023.3 293.8L1023.0 295.2L1022.8 296.7L1022.5 298.2L1022.2 299.7L1021.8 301.1L1021.4 302.6L1021.0 304.0L1020.6 305.4L1020.1 306.9L1019.7 308.3L1019.3 309.8L1018.9 311.2L1018.6 312.7L1018.3 314.1L1017.9 315.6L1017.6 317.1L1017.3 318.5L1017.0 320.0L1016.7 321.5L1016.4 322.9L1016.1 324.4L1015.8 325.9L1015.5 327.4L1015.2 328.8L1015.0 330.3L1014.7 331.8L1014.5 333.3L1014.2 334.7L1013.9 336.2L1013.6 337.7L1013.3 339.1L1012.9 340.6L1012.5 342.1L1012.1 343.5L1011.7 344.9L1011.3 346.4L1010.8 347.8L1010.4 349.2L1010.0 350.7L1009.5 352.1L1009.1 353.5L1008.6 355.0L1008.1 356.4L1007.7 357.8L1007.2 359.3L1006.8 360.7L1006.3 362.1L1005.8 363.5L1005.4 365.0L1004.9 366.4L1004.4 367.8L1003.9 369.2L1003.4 370.6L1002.9 372.1L1002.5 373.5L1002.0 374.9L1001.5 376.3L1000.9 377.7L1000.4 379.1L999.9 380.5L999.4 381.9L998.9 383.4L998.4 384.8L997.8 386.2L997.3 387.6L996.8 389.0L996.2 390.4L995.7 391.8L995.1 393.2L994.6 394.6L994.0 395.9L993.4 397.3L992.9 398.7L992.3 400.1L991.7 401.5L991.1 402.8L990.5 404.2L989.8 405.6L989.2 406.9L988.6 408.3L987.9 409.7L987.3 411.0L986.6 412.4L985.9 413.7L985.3 415.0L984.6 416.4L983.8 417.7L983.1 419.0L982.3 420.2L981.5 421.5L980.6 422.7L979.8 424.0L979.0 425.2L978.2 426.5L977.4 427.8L976.7 429.1L975.9 430.4L975.2 431.7L974.5 433.0L973.7 434.3L973.0 435.6L972.3 437.0L971.5 438.3L970.8 439.6L970.1 440.9L969.4 442.2L968.7 443.5L967.9 444.9L967.2 446.2L966.5 447.5L965.8 448.8L965.1 450.1L964.4 451.4L963.6 452.8L962.9 454.1L962.2 455.4L961.5 456.7L960.7 458.0L960.0 459.3L959.2 460.6L958.5 461.9L957.7 463.2L956.9 464.5L956.1 465.7L955.3 467.0L954.4 468.2L953.5 469.4L952.5 470.5L951.5 471.6L950.4 472.7L949.3 473.7L948.2 474.7L947.0 475.6L945.7 476.4L944.4 477.0L943.0 477.5L941.5 477.7L940.1 477.6L938.7 477.1L937.6 476.3L936.7 475.1L936.0 473.8L935.5 472.4L935.2 470.9L935.1 469.4L935.0 467.9L935.1 466.4L935.2 465.0L935.3 463.5L935.5 462.0L935.7 460.5L936.0 459.0L936.2 457.5L936.4 456.0L936.7 454.6L936.9 453.1L937.2 451.6L937.4 450.1L937.6 448.6L937.8 447.1L938.0 445.7L938.2 444.2L938.5 442.7L938.7 441.2L938.9 439.7L939.1 438.2L939.4 436.8L939.6 435.3L939.8 433.8L940.0 432.3L940.2 430.8L940.4 429.3L940.6 427.8L940.9 426.4L941.3 424.9L941.7 423.5L942.1 422.0L942.6 420.6L943.1 419.2L943.6 417.8L944.1 416.4L944.5 415.0L945.0 413.5L945.5 412.1L946.0 410.7L946.4 409.3L946.9 407.8L947.4 406.4L947.9 405.0L948.3 403.6L948.8 402.1L949.3 400.7L949.8 399.3L950.3 397.9L950.8 396.5L951.2 395.0L951.7 393.6L952.2 392.2L952.6 390.8L953.1 389.3L953.5 387.9L954.0 386.5L954.5 385.0L954.9 383.6L955.4 382.2L955.9 380.8L956.3 379.3L956.8 377.9L957.3 376.5L957.8 375.1L958.2 373.7L958.7 372.2L959.2 370.8L959.7 369.4L960.2 368.0L960.7 366.6L961.2 365.2L961.7 363.8L962.3 362.3L962.8 360.9L963.3 359.5L963.9 358.2L964.4 356.8L965.0 355.4L965.5 354.0L966.1 352.6L966.7 351.2L967.2 349.8L967.8 348.4L968.3 347.0L968.8 345.6L969.4 344.2L969.9 342.8L970.4 341.4L970.9 340.0L971.5 338.6L972.0 337.2L972.5 335.7L973.0 334.3L973.6 332.9L974.1 331.5L974.7 330.1L975.2 328.8L975.8 327.4L976.5 326.0L977.1 324.7L977.8 323.3L978.5 322.0L979.2 320.7L979.9 319.4L980.7 318.1L981.4 316.8L982.2 315.5L983.0 314.2L983.8 312.9L984.6 311.7L985.4 310.4L986.2 309.2L987.1 307.9L987.9 306.7L988.8 305.5L989.6 304.2L990.5 303.0L991.3 301.7L992.1 300.5L992.9 299.2L993.7 297.9L994.5 296.6L995.2 295.3L996.0 294.0L996.8 292.8L997.5 291.5L998.3 290.2L999.0 288.9L999.8 287.6L1000.5 286.3L1001.3 285.0L1002.1 283.7L1002.9 282.4L1003.7 281.2L1004.5 279.9L1005.3 278.7L1006.2 277.4L1007.0 276.2L1007.8 274.9L1008.7 273.7L1009.5 272.4L1010.4 271.2L1011.3 270.0L1012.2 268.8L1013.1 267.6L1014.1 266.5L1015.1 265.3L1016.1 264.2L1017.2 263.2L1018.3 262.3L1019.6 261.6Z" fill="#1f4267"/>
<path d="M1013.0 284.3L1014.3 284.7L1015.4 285.6L1016.2 286.9L1016.7 288.2L1017.1 289.7L1017.3 291.2L1017.5 292.7L1017.6 294.2L1017.7 295.6L1017.6 297.1L1017.6 298.6L1017.4 300.1L1017.2 301.6L1016.9 303.1L1016.6 304.6L1016.3 306.0L1015.9 307.5L1015.6 309.0L1015.3 310.4L1015.0 311.9L1014.8 313.4L1014.5 314.9L1014.3 316.3L1014.0 317.8L1013.8 319.3L1013.5 320.8L1013.2 322.2L1012.9 323.7L1012.7 325.2L1012.4 326.7L1012.2 328.2L1011.9 329.6L1011.7 331.1L1011.5 332.6L1011.3 334.1L1011.0 335.6L1010.8 337.1L1010.5 338.5L1010.2 340.0L1009.8 341.5L1009.4 342.9L1009.0 344.4L1008.6 345.8L1008.2 347.2L1007.7 348.7L1007.3 350.1L1006.8 351.5L1006.4 353.0L1005.9 354.4L1005.5 355.8L1005.0 357.3L1004.6 358.7L1004.1 360.1L1003.7 361.5L1003.2 363.0L1002.7 364.4L1002.3 365.8L1001.8 367.3L1001.3 368.7L1000.8 370.1L1000.4 371.5L999.9 372.9L999.4 374.4L998.9 375.8L998.4 377.2L997.9 378.6L997.4 380.0L996.9 381.4L996.3 382.8L995.8 384.2L995.3 385.7L994.8 387.1L994.3 388.5L993.7 389.9L993.2 391.3L992.7 392.7L992.1 394.1L991.6 395.5L991.0 396.9L990.4 398.3L989.9 399.6L989.3 401.0L988.7 402.4L988.0 403.8L987.4 405.1L986.8 406.5L986.2 407.9L985.5 409.2L984.9 410.6L984.2 411.9L983.5 413.2L982.8 414.6L982.1 415.9L981.4 417.2L980.6 418.5L979.8 419.7L978.9 421.0L978.0 422.2L977.1 423.4L976.2 424.6L975.4 425.8L974.5 427.1L973.7 428.3L972.9 429.6L972.2 430.9L971.4 432.2L970.6 433.5L969.8 434.7L969.1 436.0L968.3 437.3L967.5 438.6L966.7 439.9L966.0 441.2L965.2 442.5L964.4 443.7L963.6 445.0L962.9 446.3L962.1 447.6L961.3 448.9L960.5 450.1L959.7 451.4L958.8 452.7L958.0 453.9L957.2 455.2L956.4 456.4L955.5 457.7L954.6 458.9L953.7 460.1L952.8 461.3L951.8 462.4L950.8 463.5L949.7 464.5L948.6 465.5L947.3 466.2L945.9 466.6L944.5 466.6L943.3 466.0L942.4 464.9L942.0 463.5L941.7 462.0L941.6 460.5L941.6 459.0L941.7 457.5L941.8 456.0L941.9 454.5L942.0 453.0L942.1 451.5L942.2 450.0L942.3 448.5L942.4 447.0L942.6 445.5L942.7 444.0L942.8 442.5L943.0 441.1L943.1 439.6L943.2 438.1L943.4 436.6L943.5 435.1L943.6 433.6L943.7 432.1L943.8 430.6L943.9 429.1L944.1 427.6L944.3 426.1L944.6 424.6L945.0 423.2L945.5 421.8L945.9 420.3L946.4 418.9L946.9 417.5L947.3 416.1L947.8 414.6L948.3 413.2L948.7 411.8L949.2 410.3L949.6 408.9L950.1 407.5L950.5 406.1L951.0 404.6L951.5 403.2L951.9 401.8L952.4 400.3L952.9 398.9L953.4 397.5L953.8 396.1L954.3 394.6L954.8 393.2L955.2 391.8L955.7 390.4L956.1 388.9L956.6 387.5L957.0 386.1L957.5 384.6L957.9 383.2L958.4 381.8L958.9 380.3L959.3 378.9L959.8 377.5L960.3 376.1L960.8 374.6L961.2 373.2L961.7 371.8L962.2 370.4L962.7 369.0L963.2 367.5L963.7 366.1L964.2 364.7L964.7 363.3L965.2 361.9L965.7 360.5L966.3 359.1L966.8 357.7L967.4 356.3L967.9 354.9L968.5 353.5L969.0 352.1L969.5 350.7L970.1 349.3L970.6 347.9L971.2 346.5L971.7 345.1L972.2 343.7L972.7 342.3L973.2 340.9L973.8 339.5L974.3 338.0L974.8 336.6L975.3 335.2L975.9 333.8L976.4 332.4L977.0 331.0L977.6 329.7L978.2 328.3L978.8 326.9L979.5 325.6L980.2 324.3L980.9 323.0L981.7 321.7L982.5 320.4L983.3 319.1L984.1 317.8L984.9 316.6L985.7 315.3L986.6 314.1L987.5 312.9L988.4 311.7L989.2 310.5L990.2 309.3L991.1 308.1L992.0 306.9L993.0 305.8L993.9 304.6L994.9 303.4L995.8 302.3L996.7 301.1L997.6 299.9L998.5 298.7L999.4 297.5L1000.3 296.3L1001.2 295.1L1002.1 293.9L1003.0 292.7L1003.9 291.5L1004.9 290.3L1005.9 289.2L1006.9 288.1L1007.9 287.0L1009.0 286.0L1010.3 285.1L1011.6 284.5Z" fill="#254f7b"/>
<path d="M1008.0 300.3L1009.3 300.7L1010.3 301.7L1010.8 303.0L1011.1 304.5L1011.2 306.0L1011.1 307.5L1011.0 309.0L1011.0 310.5L1010.9 312.0L1010.8 313.5L1010.7 315.0L1010.6 316.5L1010.5 318.0L1010.3 319.5L1010.1 321.0L1009.9 322.4L1009.7 323.9L1009.5 325.4L1009.3 326.9L1009.1 328.4L1008.9 329.9L1008.7 331.4L1008.5 332.9L1008.4 334.4L1008.2 335.8L1007.9 337.3L1007.7 338.8L1007.4 340.3L1007.0 341.7L1006.6 343.2L1006.2 344.6L1005.8 346.1L1005.4 347.5L1005.0 349.0L1004.5 350.4L1004.1 351.8L1003.6 353.3L1003.2 354.7L1002.7 356.1L1002.3 357.6L1001.8 359.0L1001.4 360.4L1000.9 361.9L1000.5 363.3L1000.0 364.7L999.5 366.2L999.1 367.6L998.6 369.0L998.1 370.4L997.6 371.9L997.1 373.3L996.7 374.7L996.2 376.1L995.7 377.5L995.2 378.9L994.7 380.4L994.2 381.8L993.7 383.2L993.1 384.6L992.6 386.0L992.1 387.4L991.6 388.8L991.1 390.2L990.5 391.7L990.0 393.1L989.5 394.5L988.9 395.9L988.4 397.3L987.8 398.6L987.2 400.0L986.6 401.4L986.0 402.8L985.4 404.1L984.8 405.5L984.1 406.9L983.5 408.2L982.8 409.6L982.1 410.9L981.4 412.2L980.7 413.6L980.0 414.9L979.3 416.2L978.5 417.5L977.7 418.7L976.8 420.0L975.9 421.1L974.9 422.3L974.0 423.4L973.0 424.6L972.1 425.8L971.2 427.0L970.3 428.2L969.5 429.5L968.6 430.7L967.7 431.9L966.9 433.2L966.0 434.4L965.1 435.6L964.3 436.8L963.4 438.0L962.5 439.2L961.6 440.4L960.7 441.6L959.7 442.8L958.8 444.0L957.8 445.1L956.7 446.1L955.6 447.1L954.4 448.0L953.0 448.5L951.7 448.6L950.4 448.0L949.6 446.9L949.0 445.5L948.6 444.1L948.4 442.6L948.2 441.1L948.1 439.6L948.0 438.1L947.9 436.6L947.9 435.1L947.8 433.6L947.7 432.1L947.7 430.6L947.6 429.1L947.6 427.6L947.8 426.1L948.0 424.6L948.3 423.2L948.7 421.7L949.1 420.3L949.5 418.9L950.0 417.4L950.4 416.0L950.9 414.5L951.3 413.1L951.7 411.7L952.2 410.2L952.6 408.8L953.0 407.4L953.5 405.9L953.9 404.5L954.4 403.0L954.8 401.6L955.3 400.2L955.8 398.8L956.2 397.3L956.7 395.9L957.1 394.5L957.6 393.0L958.0 391.6L958.5 390.2L958.9 388.7L959.4 387.3L959.8 385.9L960.3 384.4L960.7 383.0L961.2 381.6L961.6 380.1L962.1 378.7L962.6 377.3L963.0 375.9L963.5 374.4L964.0 373.0L964.5 371.6L964.9 370.2L965.4 368.7L965.9 367.3L966.4 365.9L966.9 364.5L967.4 363.1L967.9 361.7L968.5 360.2L969.0 358.8L969.5 357.4L970.0 356.0L970.6 354.6L971.1 353.2L971.6 351.8L972.2 350.4L972.7 349.0L973.3 347.6L973.8 346.2L974.3 344.8L974.8 343.4L975.3 342.0L975.9 340.6L976.4 339.2L976.9 337.7L977.4 336.3L978.0 334.9L978.5 333.5L979.1 332.2L979.7 330.8L980.3 329.4L981.0 328.0L981.6 326.7L982.4 325.4L983.1 324.1L983.9 322.8L984.7 321.6L985.6 320.3L986.4 319.1L987.3 317.9L988.2 316.7L989.2 315.5L990.1 314.4L991.1 313.2L992.1 312.1L993.1 311.0L994.1 309.9L995.2 308.8L996.3 307.8L997.4 306.7L998.5 305.7L999.6 304.8L1000.8 303.8L1002.0 302.9L1003.2 302.0L1004.5 301.3L1005.9 300.7L1007.3 300.3Z" fill="#2b5e91"/>
<path d="M1002.0 311.3L1003.4 311.6L1004.5 312.5L1005.3 313.7L1005.8 315.1L1006.2 316.5L1006.3 318.0L1006.4 319.5L1006.4 321.0L1006.3 322.5L1006.2 324.0L1006.1 325.5L1006.0 327.0L1005.9 328.5L1005.7 330.0L1005.6 331.5L1005.5 333.0L1005.4 334.5L1005.3 336.0L1005.1 337.5L1004.9 339.0L1004.6 340.4L1004.3 341.9L1003.9 343.4L1003.5 344.8L1003.1 346.3L1002.7 347.7L1002.2 349.1L1001.8 350.6L1001.4 352.0L1000.9 353.5L1000.5 354.9L1000.0 356.3L999.6 357.8L999.1 359.2L998.7 360.6L998.2 362.1L997.8 363.5L997.3 364.9L996.9 366.4L996.4 367.8L995.9 369.2L995.4 370.7L995.0 372.1L994.5 373.5L994.0 374.9L993.5 376.3L993.0 377.8L992.5 379.2L992.0 380.6L991.5 382.0L991.0 383.4L990.5 384.9L990.0 386.3L989.5 387.7L989.0 389.1L988.5 390.5L987.9 391.9L987.4 393.3L986.9 394.7L986.3 396.1L985.8 397.5L985.2 398.9L984.6 400.3L984.0 401.7L983.4 403.0L982.8 404.4L982.1 405.8L981.5 407.1L980.8 408.5L980.1 409.8L979.4 411.1L978.7 412.5L978.0 413.8L977.2 415.1L976.4 416.4L975.6 417.6L974.8 418.8L973.8 420.0L972.8 421.1L971.8 422.2L970.7 423.3L969.7 424.4L968.6 425.4L967.6 426.6L966.6 427.7L965.6 428.8L964.6 429.9L963.5 431.0L962.4 432.0L961.3 432.9L960.0 433.8L958.7 434.4L957.3 434.7L955.9 434.5L954.7 433.7L953.7 432.6L953.0 431.3L952.4 430.0L952.0 428.5L951.8 427.0L951.7 425.5L951.8 424.0L952.0 422.6L952.3 421.1L952.6 419.6L953.0 418.2L953.4 416.7L953.8 415.3L954.2 413.8L954.6 412.4L955.0 410.9L955.4 409.5L955.8 408.0L956.2 406.6L956.6 405.1L957.0 403.7L957.5 402.3L957.9 400.8L958.4 399.4L958.8 398.0L959.3 396.5L959.7 395.1L960.2 393.6L960.6 392.2L961.0 390.8L961.5 389.3L961.9 387.9L962.3 386.5L962.8 385.0L963.2 383.6L963.7 382.1L964.1 380.7L964.6 379.3L965.0 377.9L965.5 376.4L966.0 375.0L966.4 373.6L966.9 372.1L967.4 370.7L967.9 369.3L968.3 367.9L968.8 366.4L969.3 365.0L969.8 363.6L970.3 362.2L970.8 360.8L971.4 359.4L971.9 357.9L972.4 356.5L972.9 355.1L973.5 353.7L974.0 352.3L974.5 350.9L975.1 349.5L975.6 348.1L976.1 346.7L976.6 345.3L977.2 343.9L977.7 342.5L978.2 341.0L978.7 339.6L979.2 338.2L979.8 336.8L980.3 335.4L980.9 334.0L981.5 332.7L982.1 331.3L982.8 329.9L983.4 328.6L984.2 327.3L984.9 326.0L985.7 324.7L986.6 323.5L987.5 322.3L988.4 321.1L989.4 319.9L990.4 318.8L991.4 317.7L992.4 316.6L993.6 315.6L994.7 314.7L995.9 313.7L997.1 312.9L998.5 312.2L999.8 311.6L1001.3 311.3Z" fill="#316da8"/>
<path d="M998.0 319.3L999.3 319.6L1000.5 320.5L1001.2 321.7L1001.7 323.1L1001.9 324.6L1002.0 326.1L1002.1 327.6L1002.2 329.1L1002.2 330.6L1002.2 332.1L1002.2 333.6L1002.2 335.1L1002.2 336.6L1002.0 338.1L1001.8 339.6L1001.6 341.1L1001.2 342.5L1000.9 344.0L1000.5 345.5L1000.1 346.9L999.7 348.3L999.2 349.8L998.8 351.2L998.4 352.7L997.9 354.1L997.5 355.5L997.0 357.0L996.6 358.4L996.2 359.8L995.7 361.3L995.3 362.7L994.8 364.2L994.4 365.6L993.9 367.0L993.5 368.4L993.0 369.9L992.5 371.3L992.0 372.7L991.6 374.2L991.1 375.6L990.6 377.0L990.1 378.4L989.6 379.8L989.1 381.3L988.6 382.7L988.1 384.1L987.6 385.5L987.1 386.9L986.6 388.3L986.1 389.8L985.6 391.2L985.1 392.6L984.5 394.0L984.0 395.4L983.4 396.8L982.9 398.2L982.3 399.6L981.7 400.9L981.1 402.3L980.4 403.7L979.8 405.0L979.1 406.4L978.4 407.7L977.7 409.0L977.0 410.4L976.3 411.7L975.5 412.9L974.7 414.2L973.9 415.5L973.0 416.7L972.1 417.9L971.2 419.1L970.1 420.1L969.0 421.1L967.8 422.1L966.6 422.9L965.3 423.8L964.0 424.5L962.7 425.1L961.3 425.6L959.8 425.7L958.5 425.3L957.4 424.4L956.8 423.1L956.5 421.7L956.5 420.2L956.7 418.7L957.0 417.2L957.3 415.7L957.6 414.3L957.9 412.8L958.2 411.3L958.6 409.9L958.9 408.4L959.3 406.9L959.6 405.5L960.0 404.0L960.4 402.6L960.8 401.1L961.3 399.7L961.7 398.3L962.1 396.8L962.6 395.4L963.0 393.9L963.4 392.5L963.8 391.1L964.2 389.6L964.7 388.2L965.1 386.7L965.5 385.3L966.0 383.9L966.4 382.4L966.9 381.0L967.3 379.6L967.8 378.1L968.2 376.7L968.7 375.3L969.1 373.8L969.6 372.4L970.1 371.0L970.5 369.5L971.0 368.1L971.5 366.7L972.0 365.3L972.5 363.8L973.0 362.4L973.5 361.0L974.0 359.6L974.5 358.2L975.0 356.8L975.5 355.4L976.1 354.0L976.6 352.5L977.1 351.1L977.6 349.7L978.2 348.3L978.7 346.9L979.2 345.5L979.7 344.1L980.2 342.7L980.7 341.3L981.3 339.9L981.8 338.5L982.4 337.1L983.0 335.7L983.6 334.3L984.2 333.0L984.9 331.6L985.6 330.3L986.4 329.0L987.2 327.7L988.0 326.5L989.0 325.3L989.9 324.2L991.0 323.1L992.1 322.1L993.3 321.2L994.5 320.3L995.9 319.7L997.3 319.3Z" fill="#387dc0"/>
<path d="M994.0 328.4L995.3 328.7L996.4 329.7L997.1 330.9L997.6 332.3L998.0 333.8L998.2 335.3L998.3 336.8L998.4 338.3L998.3 339.8L998.1 341.3L997.8 342.7L997.5 344.2L997.1 345.7L996.7 347.1L996.3 348.6L995.9 350.0L995.5 351.4L995.0 352.9L994.6 354.3L994.2 355.8L993.7 357.2L993.3 358.7L992.9 360.1L992.5 361.5L992.0 363.0L991.6 364.4L991.1 365.9L990.7 367.3L990.2 368.7L989.8 370.2L989.3 371.6L988.8 373.0L988.4 374.4L987.9 375.9L987.4 377.3L986.9 378.7L986.4 380.1L985.9 381.6L985.4 383.0L984.9 384.4L984.4 385.8L983.9 387.2L983.4 388.6L982.9 390.1L982.4 391.5L981.9 392.9L981.3 394.3L980.8 395.7L980.2 397.1L979.6 398.5L979.0 399.8L978.4 401.2L977.7 402.6L977.1 403.9L976.4 405.2L975.6 406.6L974.9 407.9L974.1 409.1L973.3 410.4L972.4 411.6L971.5 412.8L970.5 414.0L969.5 415.1L968.4 416.1L967.2 417.0L965.9 417.5L964.6 417.5L963.5 416.7L962.9 415.5L962.7 414.0L962.7 412.5L962.8 411.0L962.9 409.5L963.1 408.0L963.3 406.5L963.6 405.1L963.9 403.6L964.2 402.1L964.6 400.7L965.0 399.2L965.4 397.8L965.8 396.3L966.2 394.9L966.6 393.4L967.0 391.9L967.4 390.5L967.8 389.0L968.2 387.6L968.6 386.2L969.0 384.7L969.4 383.3L969.9 381.8L970.3 380.4L970.7 379.0L971.2 377.5L971.6 376.1L972.1 374.6L972.5 373.2L973.0 371.8L973.4 370.3L973.9 368.9L974.4 367.5L974.9 366.1L975.3 364.6L975.8 363.2L976.3 361.8L976.8 360.4L977.4 359.0L977.9 357.5L978.4 356.1L978.9 354.7L979.4 353.3L979.9 351.9L980.4 350.5L981.0 349.1L981.5 347.7L982.0 346.3L982.6 344.8L983.1 343.4L983.6 342.0L984.2 340.6L984.7 339.2L985.4 337.9L986.0 336.5L986.7 335.2L987.5 333.9L988.3 332.7L989.3 331.5L990.2 330.3L991.4 329.4L992.6 328.6Z" fill="#3f8eda"/>
<path d="M990.4 342.7L991.0 343.4L991.2 344.8L991.1 346.2L990.9 347.7L990.6 349.2L990.3 350.7L989.9 352.1L989.6 353.6L989.2 355.1L988.9 356.5L988.5 358.0L988.1 359.4L987.7 360.9L987.3 362.3L987.0 363.8L986.5 365.2L986.1 366.7L985.7 368.1L985.3 369.6L984.8 371.0L984.3 372.4L983.8 373.9L983.4 375.3L982.9 376.7L982.4 378.1L981.8 379.5L981.3 380.9L980.8 382.3L980.3 383.8L979.7 385.2L979.2 386.6L978.7 388.0L978.1 389.4L977.5 390.8L976.9 392.1L976.3 393.5L975.6 394.8L974.8 396.1L973.9 397.1L972.9 397.2L972.4 396.3L972.4 394.9L972.5 393.4L972.7 391.9L972.9 390.4L973.2 388.9L973.6 387.5L973.9 386.0L974.3 384.5L974.6 383.1L975.0 381.6L975.4 380.2L975.8 378.7L976.2 377.3L976.6 375.8L977.0 374.4L977.4 372.9L977.9 371.5L978.3 370.1L978.8 368.6L979.2 367.2L979.7 365.8L980.2 364.4L980.7 362.9L981.3 361.5L981.8 360.1L982.3 358.7L982.9 357.3L983.4 355.9L983.9 354.5L984.5 353.1L985.1 351.7L985.6 350.3L986.2 348.9L986.8 347.6L987.5 346.2L988.2 344.9L989.0 343.6L989.9 342.8Z" fill="#47a0f5"/>
<line x1="803.10" y1="780.02" x2="1132.95" y2="15.28" stroke="#000" stroke-width="2.96" stroke-dasharray="11.86 11.86" stroke-dashoffset="3.05"/>
<path d="M818.3 726.5L830.0 700.7L841.8 674.9L853.5 649.0L865.3 623.2L877.1 597.3L888.8 571.4L900.6 545.5L912.3 519.5L924.1 493.5L935.9 467.4L947.6 441.2L959.4 414.9L971.1 388.3L982.9 361.6L994.7 334.8L1006.4 308.0L1018.2 281.0L1029.9 254.0L1041.7 227.0L1053.5 200.0L1065.2 173.0L1077.0 145.9L1088.7 118.8L1100.5 91.8L1100.5 108.2L1088.7 134.0L1077.0 159.8L1065.2 185.7L1053.5 211.5L1041.7 237.4L1029.9 263.3L1018.2 289.2L1006.4 315.2L994.7 341.2L982.9 367.3L971.1 393.5L959.4 419.9L947.6 446.4L935.9 473.1L924.1 499.9L912.3 526.8L900.6 553.7L888.8 580.7L877.1 607.7L865.3 634.7L853.5 661.8L841.8 688.8L830.0 715.9L818.3 742.9Z" fill="#878787" fill-opacity="0.4"/>
<line x1="818.25" y1="734.73" x2="1100.51" y2="99.98" stroke="#264aff" stroke-width="5.93"/>
</g>
<path class="tk" d="M847.25 774.7v7.6M914.75 774.7v7.6M982.25 774.7v7.6M1049.75 774.7v7.6M1117.25 774.7v7.6"/>
<text class="ax" transform="translate(847.25 806.35) scale(1 1.035)" text-anchor="middle">0.00</text>
<text class="ax" transform="translate(914.75 806.35) scale(1 1.035)" text-anchor="middle">0.25</text>
<text class="ax" transform="translate(982.25 806.35) scale(1 1.035)" text-anchor="middle">0.50</text>
<text class="ax" transform="translate(1049.75 806.35) scale(1 1.035)" text-anchor="middle">0.75</text>
<text class="ax" transform="translate(1117.25 806.35) scale(1 1.035)" text-anchor="middle">1.00</text>
</g>
<path class="tk" d="M112.2 677.50h-7.6M112.2 521.12h-7.6M112.2 364.75h-7.6M112.2 208.38h-7.6"/>
<text class="ax" transform="translate(98.5 687.30) scale(1 1.035)" text-anchor="end">0.00</text>
<text class="ax" transform="translate(98.5 530.92) scale(1 1.035)" text-anchor="end">0.25</text>
<text class="ax" transform="translate(98.5 374.55) scale(1 1.035)" text-anchor="end">0.50</text>
<text class="ax" transform="translate(98.5 218.18) scale(1 1.035)" text-anchor="end">0.75</text>
<text class="ti" x="622.7" y="840.8" text-anchor="middle">X</text>
<text class="ti" transform="translate(37 418.6) rotate(-90)" text-anchor="middle">Y</text>
<text class="cp" x="1133.2" y="880.2" text-anchor="end">Comparison of variable 'b'</text>
<text class="ti" x="1179.1" y="302">Count</text>
<rect x="1179.1" y="320.3" width="47.9" height="239.7" fill="url(#cb)"/>
<path d="M1179.1 520.05h9.6M1227 520.05h-9.6M1179.1 453.47h9.6M1227 453.47h-9.6M1179.1 386.88h9.6M1227 386.88h-9.6M1179.1 320.30h9.6M1227 320.30h-9.6" stroke="#fff" stroke-opacity="0.8" stroke-width="1.48" fill="none"/>
<text class="lg" transform="translate(1242.0 529.95) scale(1 1.035)">5</text>
<text class="lg" transform="translate(1242.0 463.37) scale(1 1.035)">10</text>
<text class="lg" transform="translate(1242.0 396.78) scale(1 1.035)">15</text>
<text class="lg" transform="translate(1242.0 330.20) scale(1 1.035)">20</text>
</svg>
</body></html>
